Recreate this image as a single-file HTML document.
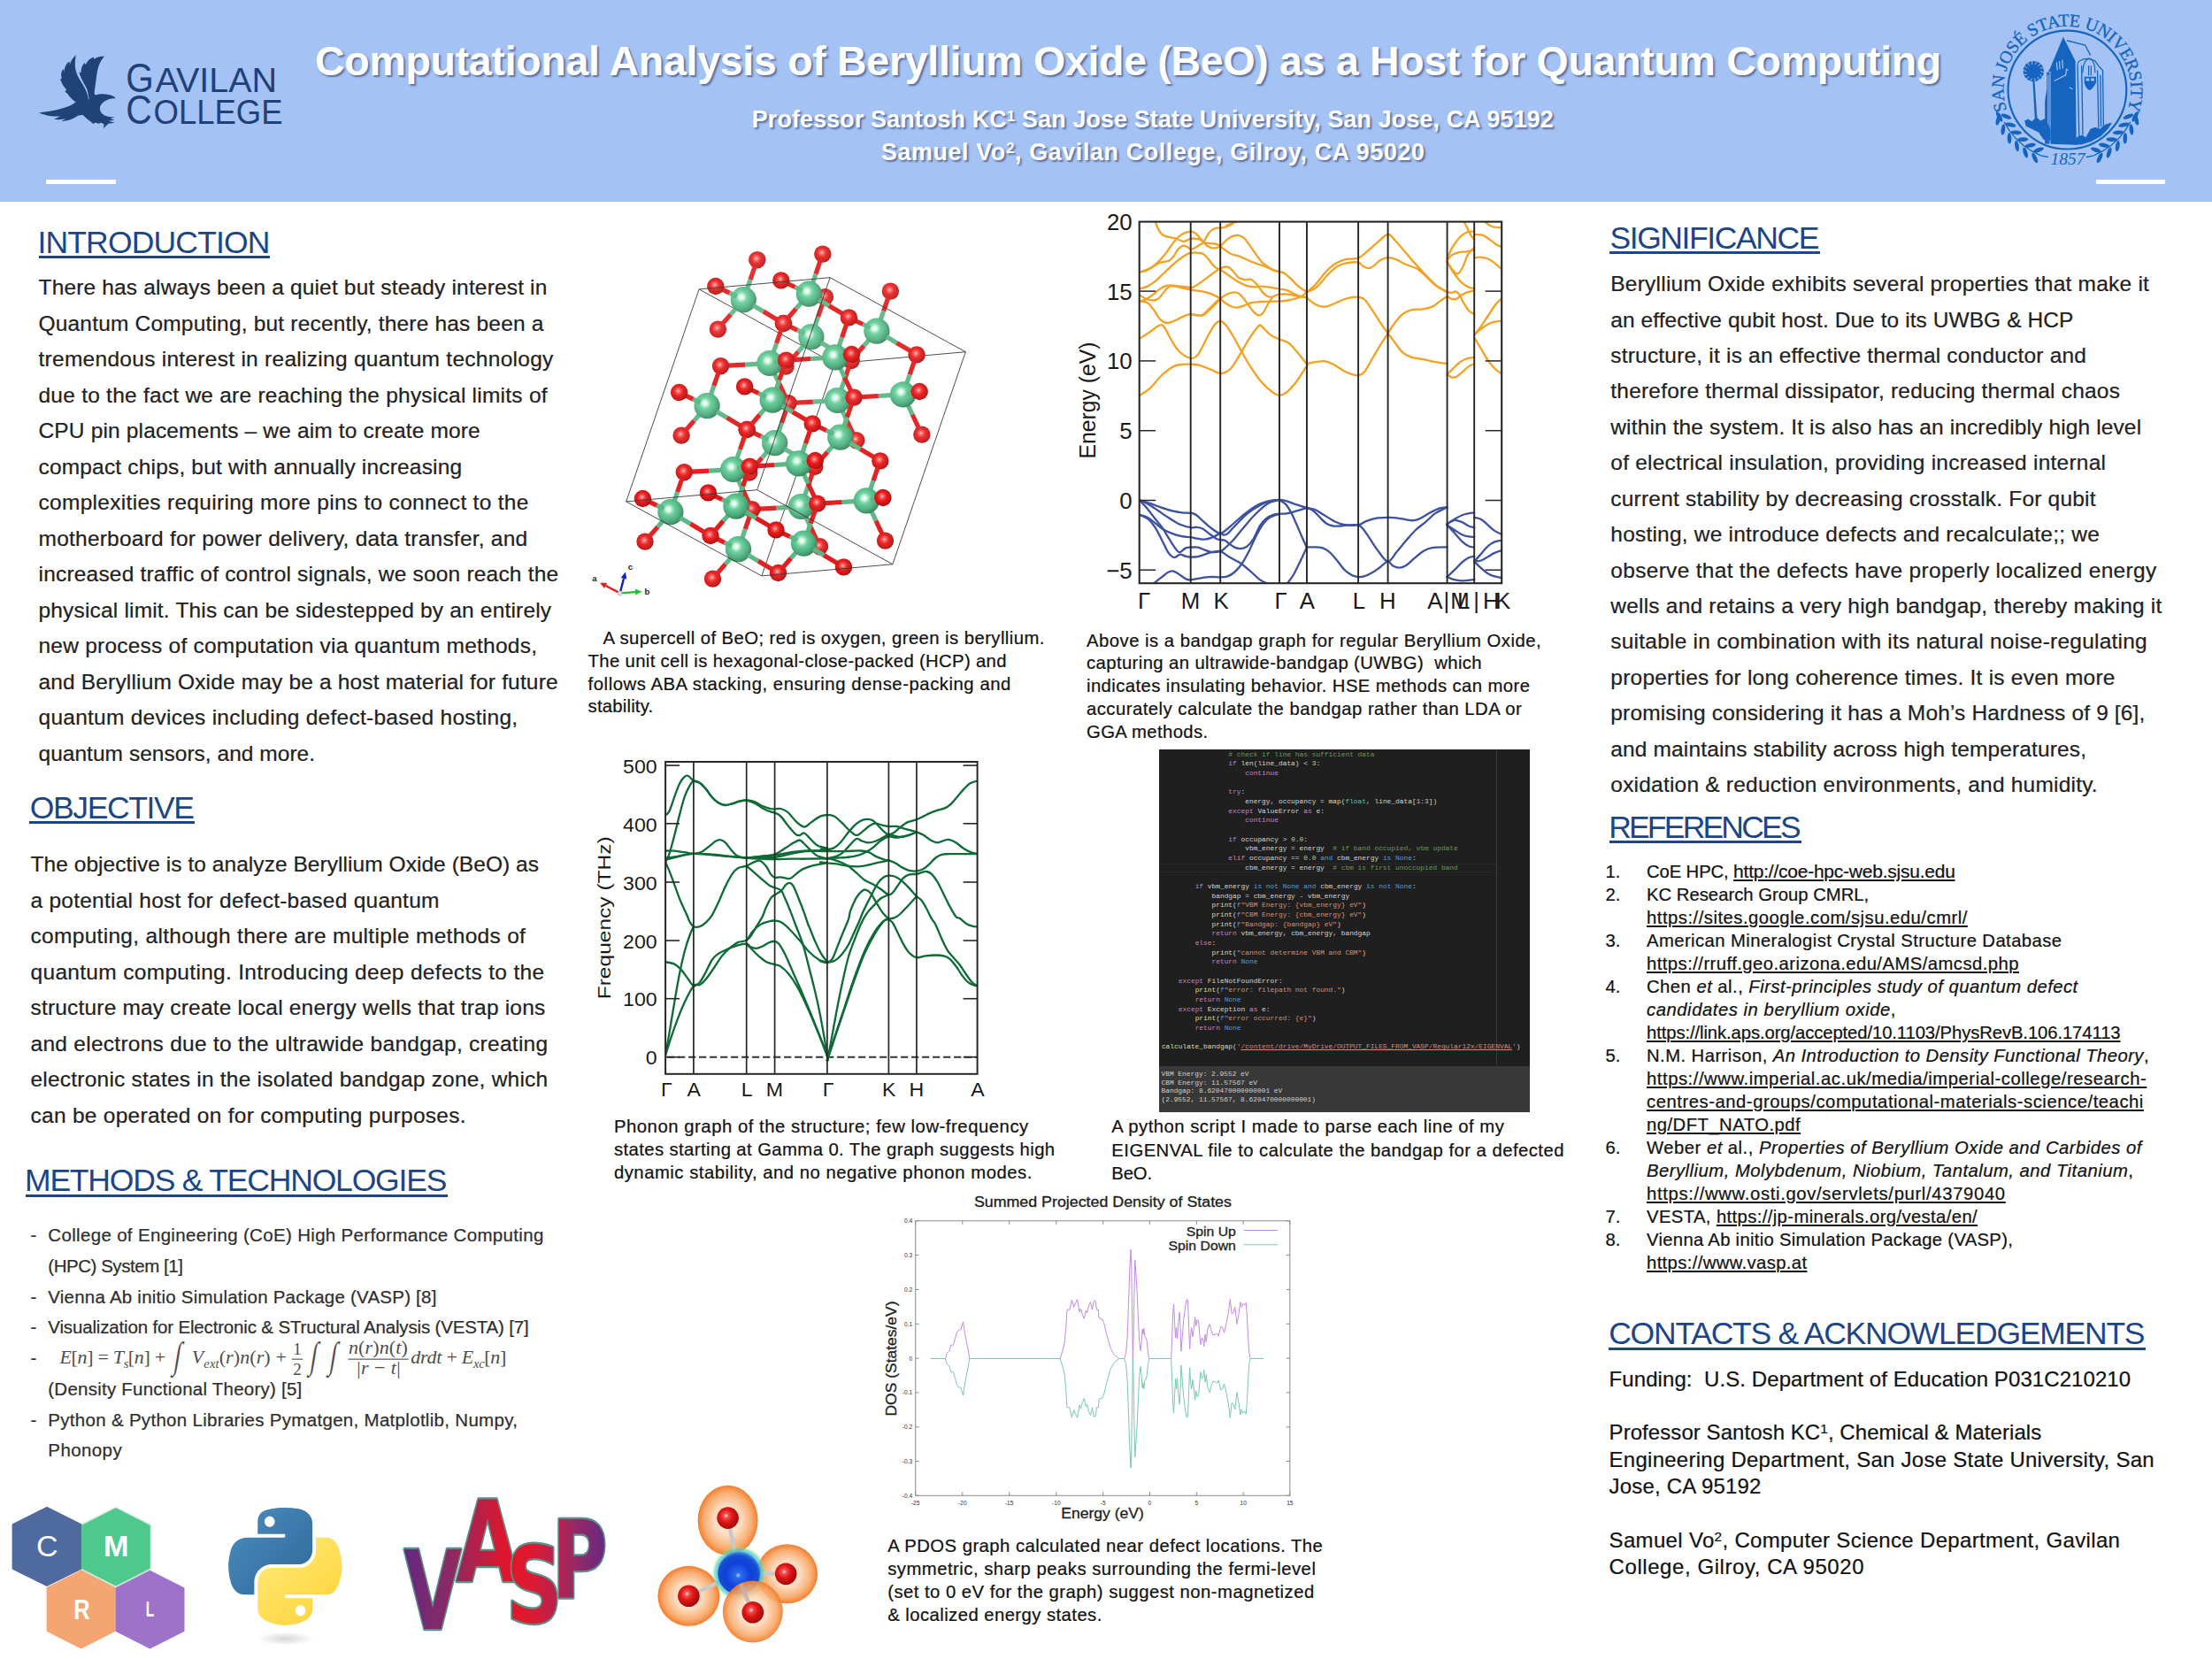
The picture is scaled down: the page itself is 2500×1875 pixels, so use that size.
<!DOCTYPE html>
<html lang="en"><head><meta charset="utf-8"><title>Computational Analysis of Beryllium Oxide (BeO) as a Host for Quantum Computing</title>
<style>
html,body{margin:0;padding:0;background:#fff;}
body{width:2500px;height:1875px;overflow:hidden;font-family:"Liberation Sans",sans-serif;color:#212121;}
#poster{position:relative;width:2500px;height:1875px;overflow:hidden;background:#fff;}
.abs{position:absolute;}
.t{position:absolute;white-space:nowrap;margin:0;padding:0;-webkit-text-stroke:0.22px currentColor;}
.t div{white-space:nowrap;}
.hd{position:absolute;white-space:nowrap;color:#1c4587;}
.hd i{position:absolute;left:0;right:0;height:2px;background:#1c4587;display:block;}
u{text-decoration:underline;text-decoration-thickness:1.5px;text-underline-offset:2px;}
#header{position:absolute;left:0;top:0;width:2500px;height:228px;background:#a4c2f4;}
.ttl{position:absolute;white-space:nowrap;color:#fff;font-weight:bold;text-shadow:2px 2px 2px rgba(60,72,112,0.68);}
sup{font-size:64%;vertical-align:baseline;position:relative;top:-0.46em;line-height:0;}
svg{position:absolute;overflow:visible;}
svg text{font-family:"Liberation Sans",sans-serif;}
svg .ser text, svg text.ser{font-family:"Liberation Serif",serif;}
svg .vasp text{font-family:"DejaVu Sans","Liberation Sans",sans-serif;}

</style></head>
<body>
<div id="poster">
<div id="header"></div>
<div class="abs" style="left:52.4px;top:202.6px;width:78.4px;height:5.2px;background:#fff;"></div>
<div class="abs" style="left:2369.2px;top:202.6px;width:78.3px;height:5.2px;background:#fff;"></div>
<div class="ttl" style="left:356.0px;top:42.2px;font-size:46.5px;line-height:55.80px;letter-spacing:-0.292px;">Computational Analysis of Beryllium Oxide (BeO) as a Host for Quantum Computing</div>
<div class="ttl" style="left:849.8px;top:119.4px;font-size:26.8px;line-height:32.16px;letter-spacing:0.178px;">Professor Santosh KC<sup>1</sup> San Jose State University, San Jose, CA 95192</div>
<div class="ttl" style="left:996.0px;top:155.9px;font-size:26.8px;line-height:32.16px;letter-spacing:0.650px;">Samuel Vo<sup>2</sup>, Gavilan College, Gilroy, CA 95020</div>
<svg style="left:0;top:0" width="340" height="228" viewBox="0 0 340 228"><g transform="translate(30,40) scale(0.14467)"><path d="M95,605 C150,598 240,585 310,560 C345,548 370,535 385,520 C360,505 335,480 318,452 L300,440 L312,425 C290,400 275,375 268,352 L262,345 L275,335 C268,310 270,290 278,275 L290,262 L292,290 C295,255 305,230 322,212 L338,205 L335,235 C345,200 362,172 388,152 L380,200 C375,250 385,300 420,350 C445,390 470,430 480,475 C482,455 478,430 462,400 C440,360 420,320 410,288 L425,292 C425,262 435,235 452,215 L462,228 C475,200 495,182 522,170 L528,185 C550,170 575,163 608,163 C585,190 565,225 555,270 C545,320 540,380 530,440 C528,452 530,462 540,466 C570,455 610,455 650,465 C675,472 690,482 698,493 C680,490 660,492 640,500 C615,510 590,525 578,548 C568,568 572,590 590,612 C610,630 640,640 690,638 L655,650 L688,662 L640,668 L690,682 L640,690 L600,725 L606,695 L585,682 L560,690 L540,680 L520,692 L500,672 C480,660 460,640 440,622 C420,620 400,625 385,638 C360,655 320,668 270,672 L305,652 C275,658 245,660 215,655 L262,632 C225,635 185,630 150,622 C128,616 108,610 95,605 Z" fill="#204377"/><path d="M388,152 C378,230 395,310 440,380 C465,420 482,455 486,500" fill="none" stroke="#a4c2f4" stroke-width="5"/></g>
<g fill="#1f4078" font-family="Liberation Sans, sans-serif">
<text y="103.8"><tspan x="142.3" font-size="46.6" textLength="31.5" lengthAdjust="spacingAndGlyphs">G</tspan><tspan x="175.5" font-size="38" textLength="137.5" lengthAdjust="spacingAndGlyphs">AVILAN</tspan></text>
<text y="140.2"><tspan x="142.3" font-size="46.6" textLength="29.5" lengthAdjust="spacingAndGlyphs">C</tspan><tspan x="173.5" font-size="38" textLength="146" lengthAdjust="spacingAndGlyphs">OLLEGE</tspan></text>
</g></svg>
<svg style="left:0;top:0" width="2500" height="228" viewBox="0 0 2500 228"><g fill="#1565c0" stroke="none">
<circle cx="2336.4" cy="101.6" r="66.9" fill="none" stroke="#1565c0" stroke-width="2.2"/>
<path id="sjarc" d="M2274.13,137.55 A71.9,71.9 0 1 1 2398.67,137.55" fill="none"/>
<text class="ser" style="letter-spacing:-0.278px" font-size="20.0" fill="#1565c0" stroke="#1565c0" stroke-width="0.35" text-anchor="middle"><textPath href="#sjarc" startOffset="50%">SAN JOSÉ STATE UNIVERSITY</textPath></text>
<text x="2336.9" y="186.4" text-anchor="middle" class="ser" font-style="italic" font-size="19.5" fill="#1565c0">1857</text>
<path d="M2265.1,137.9 L2271.0,147.7 L2278.3,156.6 L2286.7,164.3 L2296.2,170.7 L2306.4,175.8 L2314.8,177.5" fill="none" stroke="#1565c0" stroke-width="1.3"/>
<ellipse cx="2258.3" cy="135.6" rx="6.2" ry="2.3" transform="rotate(-75.0 2258.3 135.6)"/>
<ellipse cx="2267.4" cy="131.6" rx="6.2" ry="2.3" transform="rotate(-159.0 2267.4 131.6)"/>
<ellipse cx="2263.9" cy="146.4" rx="6.2" ry="2.3" transform="rotate(-83.2 2263.9 146.4)"/>
<ellipse cx="2272.4" cy="141.1" rx="6.2" ry="2.3" transform="rotate(-167.2 2272.4 141.1)"/>
<ellipse cx="2271.0" cy="156.3" rx="6.2" ry="2.3" transform="rotate(-91.4 2271.0 156.3)"/>
<ellipse cx="2278.7" cy="149.8" rx="6.2" ry="2.3" transform="rotate(-175.4 2278.7 149.8)"/>
<ellipse cx="2279.5" cy="165.0" rx="6.2" ry="2.3" transform="rotate(-99.6 2279.5 165.0)"/>
<ellipse cx="2286.2" cy="157.6" rx="6.2" ry="2.3" transform="rotate(-183.6 2286.2 157.6)"/>
<ellipse cx="2289.1" cy="172.5" rx="6.2" ry="2.3" transform="rotate(-107.8 2289.1 172.5)"/>
<ellipse cx="2294.7" cy="164.2" rx="6.2" ry="2.3" transform="rotate(-191.8 2294.7 164.2)"/>
<ellipse cx="2299.7" cy="178.5" rx="6.2" ry="2.3" transform="rotate(-116.0 2299.7 178.5)"/>
<ellipse cx="2304.0" cy="169.5" rx="6.2" ry="2.3" transform="rotate(-200.0 2304.0 169.5)"/>
<ellipse cx="2259.6" cy="131.8" rx="6.5" ry="2.3" transform="rotate(-119.5 2259.6 131.8)"/>
<path d="M2407.7,137.9 L2401.8,147.7 L2394.5,156.6 L2386.1,164.3 L2376.6,170.7 L2366.4,175.8 L2358.0,177.5" fill="none" stroke="#1565c0" stroke-width="1.3"/>
<ellipse cx="2414.5" cy="135.6" rx="6.2" ry="2.3" transform="rotate(255.0 2414.5 135.6)"/>
<ellipse cx="2405.4" cy="131.6" rx="6.2" ry="2.3" transform="rotate(339.0 2405.4 131.6)"/>
<ellipse cx="2408.9" cy="146.4" rx="6.2" ry="2.3" transform="rotate(263.2 2408.9 146.4)"/>
<ellipse cx="2400.4" cy="141.1" rx="6.2" ry="2.3" transform="rotate(347.2 2400.4 141.1)"/>
<ellipse cx="2401.8" cy="156.3" rx="6.2" ry="2.3" transform="rotate(271.4 2401.8 156.3)"/>
<ellipse cx="2394.1" cy="149.8" rx="6.2" ry="2.3" transform="rotate(355.4 2394.1 149.8)"/>
<ellipse cx="2393.3" cy="165.0" rx="6.2" ry="2.3" transform="rotate(279.6 2393.3 165.0)"/>
<ellipse cx="2386.6" cy="157.6" rx="6.2" ry="2.3" transform="rotate(363.6 2386.6 157.6)"/>
<ellipse cx="2383.7" cy="172.5" rx="6.2" ry="2.3" transform="rotate(287.8 2383.7 172.5)"/>
<ellipse cx="2378.1" cy="164.2" rx="6.2" ry="2.3" transform="rotate(371.8 2378.1 164.2)"/>
<ellipse cx="2373.1" cy="178.5" rx="6.2" ry="2.3" transform="rotate(296.0 2373.1 178.5)"/>
<ellipse cx="2368.8" cy="169.5" rx="6.2" ry="2.3" transform="rotate(380.0 2368.8 169.5)"/>
<ellipse cx="2413.2" cy="131.8" rx="6.5" ry="2.3" transform="rotate(299.5 2413.2 131.8)"/>
<g transform="translate(2230,0) scale(0.13260)">
<path d="M768,315 L872,520 L880,1235 L660,1228 L660,610 L640,608 L655,585 Z"/>
<path d="M712,530 L718,600 M735,520 L740,590 M760,510 L765,585 M690,690 L790,640 L795,590 L812,600 M820,745 L850,760" stroke="#a4c2f4" stroke-width="9" fill="none"/>
<path d="M628,615 L652,615 L652,1225 L612,1225 L612,860 L628,760 Z" />
<path d="M640,640 L640,1200" stroke="#a4c2f4" stroke-width="8"/>
<path d="M800,345 L955,385 L1000,470 M890,540 L905,520 L940,505 L990,500 L1040,520 L1075,570 L1105,600 L1112,1120 M890,545 L905,1215 M925,560 L935,1150 M1060,600 L1070,1100 M1085,640 L1090,1080" fill="none" stroke="#1565c0" stroke-width="10"/>
<path d="M935,620 C935,540 965,500 990,500 C1020,500 1040,550 1040,620" fill="none" stroke="#1565c0" stroke-width="9"/>
<path d="M948,655 L1048,655 L1048,705 C1030,740 1010,765 990,770 C970,760 955,735 948,705 Z"/>
<path d="M962,668 h28 v22 h-28 Z M1004,668 h28 v22 h-28 Z" fill="#a4c2f4"/>
<path d="M985,560 L985,645 M1005,560 L1005,645" stroke="#1565c0" stroke-width="9"/>
<circle cx="515" cy="608" r="88"/>
<path d="M575,608 L614,620" stroke="#a4c2f4" stroke-width="7"/>
<path d="M569,634 L599,662" stroke="#a4c2f4" stroke-width="7"/>
<path d="M552,655 L568,693" stroke="#a4c2f4" stroke-width="7"/>
<path d="M528,666 L525,707" stroke="#a4c2f4" stroke-width="7"/>
<path d="M502,666 L481,702" stroke="#a4c2f4" stroke-width="7"/>
<path d="M478,655 L444,678" stroke="#a4c2f4" stroke-width="7"/>
<path d="M461,634 L420,640" stroke="#a4c2f4" stroke-width="7"/>
<path d="M455,608 L416,596" stroke="#a4c2f4" stroke-width="7"/>
<path d="M461,582 L431,554" stroke="#a4c2f4" stroke-width="7"/>
<path d="M478,561 L462,523" stroke="#a4c2f4" stroke-width="7"/>
<path d="M502,550 L505,509" stroke="#a4c2f4" stroke-width="7"/>
<path d="M528,550 L549,514" stroke="#a4c2f4" stroke-width="7"/>
<path d="M552,561 L586,538" stroke="#a4c2f4" stroke-width="7"/>
<path d="M569,582 L610,576" stroke="#a4c2f4" stroke-width="7"/>
<path d="M508,690 L528,1040 L548,1040 L524,690 Z"/>
<path d="M438,1030 L470,1015 L500,1035 L540,1000 L575,1030 L610,1010 L640,1060 L660,1100 L660,1200 L600,1190 L560,1130 L500,1100 L450,1075 Z"/>
<path d="M870,1235 L880,1170 L930,1150 L960,1170 L1000,1100 L1040,1085 L1080,1100 L1130,1060 L1185,1045 L1150,1100 L1090,1160 L1010,1205 L930,1232 Z"/>
</g>
</g></svg>
<svg style="left:0;top:0" width="2500" height="1875" viewBox="0 0 2500 1875">
<defs>
<radialGradient id="gBe" cx="0.42" cy="0.40" r="0.62"><stop offset="0" stop-color="#ffffff"/><stop offset="0.10" stop-color="#e6fff2"/><stop offset="0.36" stop-color="#66cf9a"/><stop offset="0.75" stop-color="#48a878"/><stop offset="1" stop-color="#33805a"/></radialGradient>
<radialGradient id="gO" cx="0.45" cy="0.42" r="0.62"><stop offset="0" stop-color="#ffd9d9"/><stop offset="0.14" stop-color="#ff6a6a"/><stop offset="0.42" stop-color="#e91c1c"/><stop offset="0.8" stop-color="#c40f0f"/><stop offset="1" stop-color="#8e0a0a"/></radialGradient>
</defs>
<line x1="790.1" y1="326.9" x2="943.3" y2="410.9" stroke="#3a3a3a" stroke-width="0.9"/>
<line x1="943.3" y1="410.9" x2="1091.3" y2="397.7" stroke="#3a3a3a" stroke-width="0.9"/>
<line x1="943.3" y1="410.9" x2="860.9" y2="650.9" stroke="#3a3a3a" stroke-width="0.9"/>
<circle cx="888.0" cy="414.1" r="9.7" fill="url(#gO)"/>
<circle cx="888.0" cy="414.1" r="9.7" fill="#fff" opacity="0.12"/>
<circle cx="932.4" cy="335.7" r="9.7" fill="url(#gO)"/>
<circle cx="932.4" cy="335.7" r="9.7" fill="#fff" opacity="0.12"/>
<line x1="902.4" y1="397.4" x2="892.5" y2="408.8" stroke="#e43333" stroke-width="5.2"/>
<line x1="924.6" y1="358.2" x2="929.8" y2="343.0" stroke="#e43232" stroke-width="5.2"/>
<line x1="910.0" y1="388.7" x2="902.4" y2="397.4" stroke="#6bbc90" stroke-width="5.2"/>
<line x1="920.7" y1="369.7" x2="924.6" y2="358.2" stroke="#6abc90" stroke-width="5.2"/>
<circle cx="811.4" cy="372.1" r="9.7" fill="url(#gO)"/>
<circle cx="811.4" cy="372.1" r="9.7" fill="#fff" opacity="0.11"/>
<circle cx="855.8" cy="293.7" r="9.7" fill="url(#gO)"/>
<circle cx="855.8" cy="293.7" r="9.7" fill="#fff" opacity="0.11"/>
<circle cx="916.9" cy="380.7" r="14.6" fill="url(#gBe)"/>
<circle cx="916.9" cy="380.7" r="14.6" fill="#fff" opacity="0.11"/>
<line x1="825.8" y1="355.4" x2="815.9" y2="366.8" stroke="#e33030" stroke-width="5.2"/>
<line x1="927.8" y1="387.2" x2="939.4" y2="394.1" stroke="#69bc8f" stroke-width="5.2"/>
<line x1="848.0" y1="316.2" x2="853.2" y2="301.0" stroke="#e33030" stroke-width="5.2"/>
<line x1="939.4" y1="394.1" x2="954.7" y2="403.2" stroke="#e32f2f" stroke-width="5.2"/>
<line x1="833.4" y1="346.7" x2="825.8" y2="355.4" stroke="#69bc8f" stroke-width="5.2"/>
<line x1="844.1" y1="327.7" x2="848.0" y2="316.2" stroke="#69bb8e" stroke-width="5.2"/>
<line x1="909.4" y1="377.1" x2="901.1" y2="373.1" stroke="#69bb8e" stroke-width="5.2"/>
<circle cx="962.0" cy="407.5" r="9.7" fill="url(#gO)"/>
<circle cx="962.0" cy="407.5" r="9.7" fill="#fff" opacity="0.10"/>
<circle cx="962.0" cy="407.5" r="9.7" fill="url(#gO)"/>
<circle cx="962.0" cy="407.5" r="9.7" fill="#fff" opacity="0.10"/>
<circle cx="967.8" cy="497.7" r="9.7" fill="url(#gO)"/>
<circle cx="967.8" cy="497.7" r="9.7" fill="#fff" opacity="0.10"/>
<circle cx="1006.4" cy="329.1" r="9.7" fill="url(#gO)"/>
<circle cx="1006.4" cy="329.1" r="9.7" fill="#fff" opacity="0.10"/>
<circle cx="840.3" cy="338.7" r="14.6" fill="url(#gBe)"/>
<circle cx="840.3" cy="338.7" r="14.6" fill="#fff" opacity="0.10"/>
<line x1="954.2" y1="430.0" x2="959.4" y2="414.8" stroke="#e32e2e" stroke-width="5.2"/>
<line x1="957.1" y1="475.1" x2="964.4" y2="490.5" stroke="#e32e2e" stroke-width="5.2"/>
<line x1="901.1" y1="373.1" x2="890.4" y2="367.9" stroke="#e32e2e" stroke-width="5.2"/>
<line x1="976.4" y1="390.8" x2="966.5" y2="402.2" stroke="#e32e2e" stroke-width="5.2"/>
<line x1="851.2" y1="345.2" x2="862.8" y2="352.1" stroke="#68bb8e" stroke-width="5.2"/>
<line x1="998.6" y1="351.6" x2="1003.8" y2="336.4" stroke="#e32d2d" stroke-width="5.2"/>
<line x1="950.3" y1="441.5" x2="954.2" y2="430.0" stroke="#67bb8e" stroke-width="5.2"/>
<line x1="951.6" y1="463.3" x2="957.1" y2="475.1" stroke="#67bb8e" stroke-width="5.2"/>
<circle cx="846.8" cy="534.1" r="9.7" fill="url(#gO)"/>
<circle cx="846.8" cy="534.1" r="9.7" fill="#fff" opacity="0.09"/>
<line x1="862.8" y1="352.1" x2="878.1" y2="361.2" stroke="#e32d2d" stroke-width="5.2"/>
<line x1="984.0" y1="382.1" x2="976.4" y2="390.8" stroke="#67bb8d" stroke-width="5.2"/>
<line x1="832.8" y1="335.1" x2="824.5" y2="331.1" stroke="#67bb8d" stroke-width="5.2"/>
<line x1="994.7" y1="363.1" x2="998.6" y2="351.6" stroke="#67bb8d" stroke-width="5.2"/>
<circle cx="885.4" cy="365.5" r="9.7" fill="url(#gO)"/>
<circle cx="885.4" cy="365.5" r="9.7" fill="#fff" opacity="0.09"/>
<circle cx="885.4" cy="365.5" r="9.7" fill="url(#gO)"/>
<circle cx="885.4" cy="365.5" r="9.7" fill="#fff" opacity="0.09"/>
<circle cx="946.5" cy="452.5" r="14.6" fill="url(#gBe)"/>
<circle cx="946.5" cy="452.5" r="14.6" fill="#fff" opacity="0.09"/>
<line x1="933.1" y1="453.3" x2="918.8" y2="454.1" stroke="#67bb8d" stroke-width="5.2"/>
<line x1="918.8" y1="454.1" x2="900.1" y2="455.2" stroke="#e32c2c" stroke-width="5.2"/>
<circle cx="891.1" cy="455.7" r="9.7" fill="url(#gO)"/>
<circle cx="891.1" cy="455.7" r="9.7" fill="#fff" opacity="0.09"/>
<line x1="861.2" y1="517.4" x2="851.3" y2="528.8" stroke="#e32c2c" stroke-width="5.2"/>
<circle cx="929.8" cy="287.1" r="9.7" fill="url(#gO)"/>
<circle cx="929.8" cy="287.1" r="9.7" fill="#fff" opacity="0.09"/>
<circle cx="990.9" cy="374.1" r="14.6" fill="url(#gBe)"/>
<circle cx="990.9" cy="374.1" r="14.6" fill="#fff" opacity="0.09"/>
<line x1="877.6" y1="388.0" x2="882.8" y2="372.8" stroke="#e32c2c" stroke-width="5.2"/>
<line x1="880.5" y1="433.1" x2="887.8" y2="448.5" stroke="#e32c2c" stroke-width="5.2"/>
<line x1="883.4" y1="478.2" x2="888.6" y2="463.0" stroke="#e32c2c" stroke-width="5.2"/>
<line x1="824.5" y1="331.1" x2="813.8" y2="325.9" stroke="#e32b2b" stroke-width="5.2"/>
<line x1="899.8" y1="348.8" x2="889.9" y2="360.2" stroke="#e32b2b" stroke-width="5.2"/>
<line x1="1001.8" y1="380.6" x2="1013.4" y2="387.5" stroke="#66ba8c" stroke-width="5.2"/>
<line x1="868.8" y1="508.7" x2="861.2" y2="517.4" stroke="#66ba8c" stroke-width="5.2"/>
<line x1="922.0" y1="309.6" x2="927.2" y2="294.4" stroke="#e32b2b" stroke-width="5.2"/>
<line x1="873.7" y1="399.5" x2="877.6" y2="388.0" stroke="#66ba8c" stroke-width="5.2"/>
<line x1="875.0" y1="421.3" x2="880.5" y2="433.1" stroke="#66ba8c" stroke-width="5.2"/>
<line x1="879.5" y1="489.7" x2="883.4" y2="478.2" stroke="#66ba8c" stroke-width="5.2"/>
<circle cx="770.1" cy="492.1" r="9.7" fill="url(#gO)"/>
<circle cx="770.1" cy="492.1" r="9.7" fill="#fff" opacity="0.08"/>
<line x1="951.0" y1="451.7" x2="955.8" y2="450.8" stroke="#65ba8c" stroke-width="5.2"/>
<line x1="1013.4" y1="387.5" x2="1028.7" y2="396.6" stroke="#e22b2b" stroke-width="5.2"/>
<line x1="907.4" y1="340.1" x2="899.8" y2="348.8" stroke="#65ba8c" stroke-width="5.2"/>
<line x1="918.1" y1="321.1" x2="922.0" y2="309.6" stroke="#65ba8c" stroke-width="5.2"/>
<line x1="983.4" y1="370.5" x2="975.1" y2="366.5" stroke="#65ba8c" stroke-width="5.2"/>
<circle cx="808.8" cy="323.5" r="9.7" fill="url(#gO)"/>
<circle cx="808.8" cy="323.5" r="9.7" fill="#fff" opacity="0.08"/>
<circle cx="1036.0" cy="400.9" r="9.7" fill="url(#gO)"/>
<circle cx="1036.0" cy="400.9" r="9.7" fill="#fff" opacity="0.08"/>
<circle cx="869.9" cy="410.5" r="14.6" fill="url(#gBe)"/>
<circle cx="869.9" cy="410.5" r="14.6" fill="#fff" opacity="0.08"/>
<line x1="856.5" y1="411.3" x2="842.2" y2="412.1" stroke="#65ba8c" stroke-width="5.2"/>
<line x1="842.2" y1="412.1" x2="823.5" y2="413.2" stroke="#e22a2a" stroke-width="5.2"/>
<circle cx="814.5" cy="413.7" r="9.7" fill="url(#gO)"/>
<circle cx="814.5" cy="413.7" r="9.7" fill="#fff" opacity="0.08"/>
<circle cx="1041.8" cy="491.1" r="9.7" fill="url(#gO)"/>
<circle cx="1041.8" cy="491.1" r="9.7" fill="#fff" opacity="0.08"/>
<circle cx="875.7" cy="500.7" r="14.6" fill="url(#gBe)"/>
<circle cx="875.7" cy="500.7" r="14.6" fill="#fff" opacity="0.08"/>
<line x1="784.6" y1="475.4" x2="774.7" y2="486.8" stroke="#e22a2a" stroke-width="5.2"/>
<circle cx="914.3" cy="332.1" r="14.6" fill="url(#gBe)"/>
<circle cx="914.3" cy="332.1" r="14.6" fill="#fff" opacity="0.08"/>
<line x1="886.6" y1="507.2" x2="898.2" y2="514.1" stroke="#64ba8b" stroke-width="5.2"/>
<line x1="1028.2" y1="423.4" x2="1033.4" y2="408.2" stroke="#e22929" stroke-width="5.2"/>
<line x1="806.8" y1="436.2" x2="812.0" y2="421.0" stroke="#e22929" stroke-width="5.2"/>
<line x1="955.8" y1="450.8" x2="962.2" y2="449.6" stroke="#e22929" stroke-width="5.2"/>
<line x1="1031.1" y1="468.5" x2="1038.4" y2="483.9" stroke="#e22929" stroke-width="5.2"/>
<line x1="975.1" y1="366.5" x2="964.4" y2="361.3" stroke="#e22929" stroke-width="5.2"/>
<line x1="898.2" y1="514.1" x2="913.5" y2="523.2" stroke="#e22929" stroke-width="5.2"/>
<line x1="925.2" y1="338.6" x2="936.8" y2="345.5" stroke="#64b98b" stroke-width="5.2"/>
<line x1="792.2" y1="466.7" x2="784.6" y2="475.4" stroke="#64b98b" stroke-width="5.2"/>
<line x1="1024.3" y1="434.9" x2="1028.2" y2="423.4" stroke="#64b98b" stroke-width="5.2"/>
<line x1="802.9" y1="447.7" x2="806.8" y2="436.2" stroke="#64b98b" stroke-width="5.2"/>
<line x1="1025.6" y1="456.7" x2="1031.1" y2="468.5" stroke="#64b98b" stroke-width="5.2"/>
<line x1="868.2" y1="497.1" x2="859.9" y2="493.1" stroke="#64b98b" stroke-width="5.2"/>
<circle cx="920.8" cy="527.5" r="9.7" fill="url(#gO)"/>
<circle cx="920.8" cy="527.5" r="9.7" fill="#fff" opacity="0.07"/>
<line x1="874.4" y1="409.7" x2="879.2" y2="408.8" stroke="#64b98b" stroke-width="5.2"/>
<line x1="936.8" y1="345.5" x2="952.1" y2="354.6" stroke="#e22828" stroke-width="5.2"/>
<circle cx="926.5" cy="617.7" r="9.7" fill="url(#gO)"/>
<circle cx="926.5" cy="617.7" r="9.7" fill="#fff" opacity="0.07"/>
<line x1="906.8" y1="328.5" x2="898.5" y2="324.5" stroke="#63b98b" stroke-width="5.2"/>
<circle cx="959.4" cy="358.9" r="9.7" fill="url(#gO)"/>
<circle cx="959.4" cy="358.9" r="9.7" fill="#fff" opacity="0.07"/>
<circle cx="1020.5" cy="445.9" r="14.6" fill="url(#gBe)"/>
<circle cx="1020.5" cy="445.9" r="14.6" fill="#fff" opacity="0.07"/>
<line x1="1007.1" y1="446.7" x2="992.8" y2="447.5" stroke="#63b98a" stroke-width="5.2"/>
<line x1="992.8" y1="447.5" x2="974.1" y2="448.6" stroke="#e22828" stroke-width="5.2"/>
<circle cx="965.1" cy="449.1" r="9.7" fill="url(#gO)"/>
<circle cx="965.1" cy="449.1" r="9.7" fill="#fff" opacity="0.07"/>
<circle cx="799.1" cy="458.7" r="14.6" fill="url(#gBe)"/>
<circle cx="799.1" cy="458.7" r="14.6" fill="#fff" opacity="0.07"/>
<line x1="913.0" y1="550.0" x2="918.2" y2="534.8" stroke="#e22727" stroke-width="5.2"/>
<line x1="915.9" y1="595.1" x2="923.2" y2="610.5" stroke="#e22727" stroke-width="5.2"/>
<line x1="859.9" y1="493.1" x2="849.2" y2="487.9" stroke="#e22727" stroke-width="5.2"/>
<line x1="935.2" y1="510.8" x2="925.3" y2="522.2" stroke="#e22727" stroke-width="5.2"/>
<line x1="810.0" y1="465.2" x2="821.6" y2="472.1" stroke="#63b98a" stroke-width="5.2"/>
<line x1="951.6" y1="381.4" x2="956.8" y2="366.2" stroke="#e22727" stroke-width="5.2"/>
<line x1="879.2" y1="408.8" x2="885.6" y2="407.6" stroke="#e22727" stroke-width="5.2"/>
<line x1="954.5" y1="426.5" x2="961.8" y2="441.9" stroke="#e22727" stroke-width="5.2"/>
<line x1="957.4" y1="471.6" x2="962.6" y2="456.4" stroke="#e22727" stroke-width="5.2"/>
<line x1="909.1" y1="561.5" x2="913.0" y2="550.0" stroke="#63b98a" stroke-width="5.2"/>
<line x1="898.5" y1="324.5" x2="887.8" y2="319.3" stroke="#e22727" stroke-width="5.2"/>
<line x1="910.4" y1="583.3" x2="915.9" y2="595.1" stroke="#63b98a" stroke-width="5.2"/>
<circle cx="805.5" cy="654.1" r="9.7" fill="url(#gO)"/>
<circle cx="805.5" cy="654.1" r="9.7" fill="#fff" opacity="0.06"/>
<line x1="821.6" y1="472.1" x2="836.9" y2="481.2" stroke="#e22626" stroke-width="5.2"/>
<line x1="942.8" y1="502.1" x2="935.2" y2="510.8" stroke="#62b98a" stroke-width="5.2"/>
<line x1="947.7" y1="392.9" x2="951.6" y2="381.4" stroke="#62b98a" stroke-width="5.2"/>
<line x1="949.0" y1="414.7" x2="954.5" y2="426.5" stroke="#62b98a" stroke-width="5.2"/>
<line x1="791.6" y1="455.1" x2="783.3" y2="451.1" stroke="#62b98a" stroke-width="5.2"/>
<line x1="953.5" y1="483.1" x2="957.4" y2="471.6" stroke="#62b98a" stroke-width="5.2"/>
<circle cx="844.2" cy="485.5" r="9.7" fill="url(#gO)"/>
<circle cx="844.2" cy="485.5" r="9.7" fill="#fff" opacity="0.06"/>
<circle cx="844.1" cy="485.5" r="9.7" fill="url(#gO)"/>
<circle cx="844.1" cy="485.5" r="9.7" fill="#fff" opacity="0.06"/>
<line x1="1025.0" y1="445.1" x2="1029.8" y2="444.2" stroke="#62b889" stroke-width="5.2"/>
<circle cx="905.3" cy="572.5" r="14.6" fill="url(#gBe)"/>
<circle cx="905.3" cy="572.5" r="14.6" fill="#fff" opacity="0.06"/>
<line x1="891.9" y1="573.3" x2="877.6" y2="574.1" stroke="#62b889" stroke-width="5.2"/>
<line x1="877.6" y1="574.1" x2="858.9" y2="575.2" stroke="#e22626" stroke-width="5.2"/>
<circle cx="849.9" cy="575.7" r="9.7" fill="url(#gO)"/>
<circle cx="849.9" cy="575.7" r="9.7" fill="#fff" opacity="0.06"/>
<line x1="820.0" y1="637.4" x2="810.1" y2="648.8" stroke="#e22525" stroke-width="5.2"/>
<circle cx="882.8" cy="316.9" r="9.7" fill="url(#gO)"/>
<circle cx="882.8" cy="316.9" r="9.7" fill="#fff" opacity="0.06"/>
<circle cx="943.9" cy="403.9" r="14.6" fill="url(#gBe)"/>
<circle cx="943.9" cy="403.9" r="14.6" fill="#fff" opacity="0.06"/>
<line x1="930.5" y1="404.7" x2="916.2" y2="405.5" stroke="#62b889" stroke-width="5.2"/>
<line x1="916.2" y1="405.5" x2="897.5" y2="406.6" stroke="#e22525" stroke-width="5.2"/>
<circle cx="888.5" cy="407.1" r="9.7" fill="url(#gO)"/>
<circle cx="888.5" cy="407.1" r="9.7" fill="#fff" opacity="0.06"/>
<circle cx="949.7" cy="494.1" r="14.6" fill="url(#gBe)"/>
<circle cx="949.7" cy="494.1" r="14.6" fill="#fff" opacity="0.06"/>
<line x1="836.4" y1="508.0" x2="841.6" y2="492.8" stroke="#e22525" stroke-width="5.2"/>
<line x1="839.3" y1="553.1" x2="846.6" y2="568.5" stroke="#e22525" stroke-width="5.2"/>
<line x1="842.2" y1="598.2" x2="847.4" y2="583.0" stroke="#e22525" stroke-width="5.2"/>
<line x1="783.3" y1="451.1" x2="772.6" y2="445.9" stroke="#e22525" stroke-width="5.2"/>
<line x1="858.6" y1="468.8" x2="848.7" y2="480.2" stroke="#e22525" stroke-width="5.2"/>
<line x1="960.6" y1="500.6" x2="972.2" y2="507.5" stroke="#61b889" stroke-width="5.2"/>
<line x1="827.6" y1="628.7" x2="820.0" y2="637.4" stroke="#61b889" stroke-width="5.2"/>
<line x1="880.8" y1="429.6" x2="886.0" y2="414.4" stroke="#e22424" stroke-width="5.2"/>
<line x1="1029.8" y1="444.2" x2="1036.2" y2="443.0" stroke="#e22424" stroke-width="5.2"/>
<line x1="832.5" y1="519.5" x2="836.4" y2="508.0" stroke="#61b889" stroke-width="5.2"/>
<line x1="833.8" y1="541.3" x2="839.3" y2="553.1" stroke="#61b889" stroke-width="5.2"/>
<line x1="838.3" y1="609.7" x2="842.2" y2="598.2" stroke="#61b889" stroke-width="5.2"/>
<circle cx="729.0" cy="612.1" r="9.7" fill="url(#gO)"/>
<circle cx="729.0" cy="612.1" r="9.7" fill="#fff" opacity="0.05"/>
<line x1="909.8" y1="571.7" x2="914.6" y2="570.8" stroke="#61b888" stroke-width="5.2"/>
<line x1="972.2" y1="507.5" x2="987.5" y2="516.6" stroke="#e22424" stroke-width="5.2"/>
<line x1="866.2" y1="460.1" x2="858.6" y2="468.8" stroke="#61b888" stroke-width="5.2"/>
<line x1="876.9" y1="441.1" x2="880.8" y2="429.6" stroke="#60b888" stroke-width="5.2"/>
<line x1="942.2" y1="490.5" x2="933.9" y2="486.5" stroke="#60b888" stroke-width="5.2"/>
<circle cx="767.6" cy="443.5" r="9.7" fill="url(#gO)"/>
<circle cx="767.6" cy="443.5" r="9.7" fill="#fff" opacity="0.05"/>
<circle cx="994.8" cy="520.9" r="9.7" fill="url(#gO)"/>
<circle cx="994.8" cy="520.9" r="9.7" fill="#fff" opacity="0.05"/>
<line x1="948.4" y1="403.1" x2="953.2" y2="402.2" stroke="#60b888" stroke-width="5.2"/>
<circle cx="828.7" cy="530.5" r="14.6" fill="url(#gBe)"/>
<circle cx="828.7" cy="530.5" r="14.6" fill="#fff" opacity="0.05"/>
<line x1="815.3" y1="531.3" x2="801.0" y2="532.1" stroke="#60b888" stroke-width="5.2"/>
<line x1="801.0" y1="532.1" x2="782.3" y2="533.2" stroke="#e22323" stroke-width="5.2"/>
<circle cx="773.3" cy="533.7" r="9.7" fill="url(#gO)"/>
<circle cx="773.3" cy="533.7" r="9.7" fill="#fff" opacity="0.05"/>
<circle cx="1000.5" cy="611.1" r="9.7" fill="url(#gO)"/>
<circle cx="1000.5" cy="611.1" r="9.7" fill="#fff" opacity="0.05"/>
<circle cx="834.5" cy="620.7" r="14.6" fill="url(#gBe)"/>
<circle cx="834.5" cy="620.7" r="14.6" fill="#fff" opacity="0.05"/>
<line x1="743.4" y1="595.4" x2="733.5" y2="606.8" stroke="#e12323" stroke-width="5.2"/>
<circle cx="1039.2" cy="442.5" r="9.7" fill="url(#gO)"/>
<circle cx="1039.2" cy="442.5" r="9.7" fill="#fff" opacity="0.05"/>
<circle cx="873.1" cy="452.1" r="14.6" fill="url(#gBe)"/>
<circle cx="873.1" cy="452.1" r="14.6" fill="#fff" opacity="0.05"/>
<line x1="845.4" y1="627.2" x2="857.0" y2="634.1" stroke="#60b788" stroke-width="5.2"/>
<line x1="987.0" y1="543.4" x2="992.2" y2="528.2" stroke="#e12323" stroke-width="5.2"/>
<line x1="765.6" y1="556.2" x2="770.8" y2="541.0" stroke="#e12323" stroke-width="5.2"/>
<line x1="914.6" y1="570.8" x2="921.0" y2="569.6" stroke="#e12222" stroke-width="5.2"/>
<line x1="989.9" y1="588.5" x2="997.2" y2="603.9" stroke="#e12222" stroke-width="5.2"/>
<line x1="933.9" y1="486.5" x2="923.2" y2="481.3" stroke="#e12222" stroke-width="5.2"/>
<line x1="857.0" y1="634.1" x2="872.3" y2="643.2" stroke="#e12222" stroke-width="5.2"/>
<line x1="884.0" y1="458.6" x2="895.6" y2="465.5" stroke="#5fb787" stroke-width="5.2"/>
<line x1="751.0" y1="586.7" x2="743.4" y2="595.4" stroke="#5fb787" stroke-width="5.2"/>
<line x1="953.2" y1="402.2" x2="959.6" y2="401.0" stroke="#e12222" stroke-width="5.2"/>
<line x1="983.1" y1="554.9" x2="987.0" y2="543.4" stroke="#5fb787" stroke-width="5.2"/>
<line x1="761.7" y1="567.7" x2="765.6" y2="556.2" stroke="#5fb787" stroke-width="5.2"/>
<line x1="984.4" y1="576.7" x2="989.9" y2="588.5" stroke="#5fb787" stroke-width="5.2"/>
<line x1="827.0" y1="617.1" x2="818.7" y2="613.1" stroke="#5fb787" stroke-width="5.2"/>
<circle cx="879.5" cy="647.5" r="9.7" fill="url(#gO)"/>
<circle cx="879.5" cy="647.5" r="9.7" fill="#fff" opacity="0.04"/>
<line x1="833.2" y1="529.7" x2="838.0" y2="528.8" stroke="#5fb787" stroke-width="5.2"/>
<line x1="895.6" y1="465.5" x2="910.9" y2="474.6" stroke="#e12222" stroke-width="5.2"/>
<line x1="865.6" y1="448.5" x2="857.3" y2="444.5" stroke="#5fb787" stroke-width="5.2"/>
<circle cx="918.2" cy="478.9" r="9.7" fill="url(#gO)"/>
<circle cx="918.2" cy="478.9" r="9.7" fill="#fff" opacity="0.04"/>
<circle cx="979.3" cy="565.9" r="14.6" fill="url(#gBe)"/>
<circle cx="979.3" cy="565.9" r="14.6" fill="#fff" opacity="0.04"/>
<line x1="965.9" y1="566.7" x2="951.6" y2="567.5" stroke="#5eb787" stroke-width="5.2"/>
<line x1="951.6" y1="567.5" x2="932.9" y2="568.6" stroke="#e12121" stroke-width="5.2"/>
<circle cx="923.9" cy="569.1" r="9.7" fill="url(#gO)"/>
<circle cx="923.9" cy="569.1" r="9.7" fill="#fff" opacity="0.04"/>
<circle cx="757.9" cy="578.7" r="14.6" fill="url(#gBe)"/>
<circle cx="757.9" cy="578.7" r="14.6" fill="#fff" opacity="0.04"/>
<line x1="818.7" y1="613.1" x2="808.0" y2="607.9" stroke="#e12121" stroke-width="5.2"/>
<line x1="894.0" y1="630.8" x2="884.1" y2="642.2" stroke="#e12121" stroke-width="5.2"/>
<circle cx="962.5" cy="400.5" r="9.7" fill="url(#gO)"/>
<circle cx="962.5" cy="400.5" r="9.7" fill="#fff" opacity="0.04"/>
<line x1="768.8" y1="585.2" x2="780.4" y2="592.1" stroke="#5eb786" stroke-width="5.2"/>
<line x1="910.4" y1="501.4" x2="915.6" y2="486.2" stroke="#e12020" stroke-width="5.2"/>
<line x1="838.0" y1="528.8" x2="844.4" y2="527.6" stroke="#e12020" stroke-width="5.2"/>
<line x1="913.3" y1="546.5" x2="920.6" y2="561.9" stroke="#e12020" stroke-width="5.2"/>
<line x1="916.2" y1="591.6" x2="921.4" y2="576.4" stroke="#e12020" stroke-width="5.2"/>
<line x1="857.3" y1="444.5" x2="846.6" y2="439.3" stroke="#e12020" stroke-width="5.2"/>
<line x1="780.4" y1="592.1" x2="795.7" y2="601.2" stroke="#e12020" stroke-width="5.2"/>
<line x1="901.6" y1="622.1" x2="894.0" y2="630.8" stroke="#5db686" stroke-width="5.2"/>
<line x1="906.5" y1="512.9" x2="910.4" y2="501.4" stroke="#5db686" stroke-width="5.2"/>
<line x1="907.8" y1="534.7" x2="913.3" y2="546.5" stroke="#5db686" stroke-width="5.2"/>
<line x1="750.4" y1="575.1" x2="742.1" y2="571.1" stroke="#5db686" stroke-width="5.2"/>
<line x1="912.3" y1="603.1" x2="916.2" y2="591.6" stroke="#5db686" stroke-width="5.2"/>
<circle cx="803.0" cy="605.5" r="9.7" fill="url(#gO)"/>
<circle cx="803.0" cy="605.5" r="9.7" fill="#fff" opacity="0.03"/>
<line x1="983.8" y1="565.1" x2="988.6" y2="564.2" stroke="#5db686" stroke-width="5.2"/>
<circle cx="841.6" cy="436.9" r="9.7" fill="url(#gO)"/>
<circle cx="841.6" cy="436.9" r="9.7" fill="#fff" opacity="0.03"/>
<circle cx="902.7" cy="523.9" r="14.6" fill="url(#gBe)"/>
<circle cx="902.7" cy="523.9" r="14.6" fill="#fff" opacity="0.03"/>
<line x1="889.3" y1="524.7" x2="875.0" y2="525.5" stroke="#5db686" stroke-width="5.2"/>
<line x1="875.0" y1="525.5" x2="856.3" y2="526.6" stroke="#e11f1f" stroke-width="5.2"/>
<circle cx="847.3" cy="527.1" r="9.7" fill="url(#gO)"/>
<circle cx="847.3" cy="527.1" r="9.7" fill="#fff" opacity="0.03"/>
<circle cx="908.5" cy="614.1" r="14.6" fill="url(#gBe)"/>
<circle cx="908.5" cy="614.1" r="14.6" fill="#fff" opacity="0.03"/>
<line x1="742.1" y1="571.1" x2="731.4" y2="565.9" stroke="#e11e1e" stroke-width="5.2"/>
<line x1="817.4" y1="588.8" x2="807.5" y2="600.2" stroke="#e11e1e" stroke-width="5.2"/>
<line x1="919.4" y1="620.6" x2="931.0" y2="627.5" stroke="#5cb685" stroke-width="5.2"/>
<line x1="839.6" y1="549.6" x2="844.8" y2="534.4" stroke="#e11e1e" stroke-width="5.2"/>
<line x1="988.6" y1="564.2" x2="995.0" y2="563.0" stroke="#e11e1e" stroke-width="5.2"/>
<line x1="931.0" y1="627.5" x2="946.3" y2="636.6" stroke="#e11d1d" stroke-width="5.2"/>
<line x1="825.0" y1="580.1" x2="817.4" y2="588.8" stroke="#5cb685" stroke-width="5.2"/>
<line x1="835.7" y1="561.1" x2="839.6" y2="549.6" stroke="#5cb685" stroke-width="5.2"/>
<line x1="901.0" y1="610.5" x2="892.7" y2="606.5" stroke="#5cb685" stroke-width="5.2"/>
<circle cx="726.4" cy="563.5" r="9.7" fill="url(#gO)"/>
<circle cx="726.4" cy="563.5" r="9.7" fill="#fff" opacity="0.02"/>
<circle cx="953.5" cy="640.9" r="9.7" fill="url(#gO)"/>
<circle cx="953.5" cy="640.9" r="9.7" fill="#fff" opacity="0.02"/>
<line x1="907.2" y1="523.1" x2="912.0" y2="522.2" stroke="#5bb685" stroke-width="5.2"/>
<circle cx="997.9" cy="562.5" r="9.7" fill="url(#gO)"/>
<circle cx="831.9" cy="572.1" r="14.6" fill="url(#gBe)"/>
<line x1="892.7" y1="606.5" x2="882.0" y2="601.3" stroke="#e01c1c" stroke-width="5.2"/>
<line x1="842.8" y1="578.6" x2="854.4" y2="585.5" stroke="#5ab584" stroke-width="5.2"/>
<line x1="912.0" y1="522.2" x2="918.4" y2="521.0" stroke="#e01b1b" stroke-width="5.2"/>
<line x1="854.4" y1="585.5" x2="869.7" y2="594.6" stroke="#e01b1b" stroke-width="5.2"/>
<line x1="824.4" y1="568.5" x2="816.1" y2="564.5" stroke="#5ab583" stroke-width="5.2"/>
<circle cx="877.0" cy="598.9" r="9.7" fill="url(#gO)"/>
<circle cx="921.3" cy="520.5" r="9.7" fill="url(#gO)"/>
<line x1="816.1" y1="564.5" x2="805.4" y2="559.3" stroke="#e01919" stroke-width="5.2"/>
<circle cx="800.4" cy="556.9" r="9.7" fill="url(#gO)"/>
<line x1="790.1" y1="326.9" x2="938.1" y2="313.7" stroke="#3a3a3a" stroke-width="0.9"/>
<line x1="790.1" y1="326.9" x2="707.7" y2="566.9" stroke="#3a3a3a" stroke-width="0.9"/>
<line x1="707.7" y1="566.9" x2="855.7" y2="553.7" stroke="#3a3a3a" stroke-width="0.9"/>
<line x1="707.7" y1="566.9" x2="860.9" y2="650.9" stroke="#3a3a3a" stroke-width="0.9"/>
<line x1="860.9" y1="650.9" x2="1008.9" y2="637.7" stroke="#3a3a3a" stroke-width="0.9"/>
<line x1="938.1" y1="313.7" x2="1091.3" y2="397.7" stroke="#3a3a3a" stroke-width="0.9"/>
<line x1="938.1" y1="313.7" x2="855.7" y2="553.7" stroke="#3a3a3a" stroke-width="0.9"/>
<line x1="855.7" y1="553.7" x2="1008.9" y2="637.7" stroke="#3a3a3a" stroke-width="0.9"/>
<line x1="1091.3" y1="397.7" x2="1008.9" y2="637.7" stroke="#3a3a3a" stroke-width="0.9"/>
<line x1="700.7" y1="670.4" x2="684.6" y2="662.0" stroke="#e02020" stroke-width="2.4"/><polygon points="678.0,658.5 686.2,659.0 683.1,665.0" fill="#e02020"/>
<line x1="700.7" y1="670.4" x2="718.0" y2="669.1" stroke="#20c030" stroke-width="2.4"/><polygon points="725.5,668.6 718.3,672.5 717.8,665.8" fill="#20c030"/>
<line x1="700.7" y1="670.4" x2="705.0" y2="653.8" stroke="#1020c0" stroke-width="2.4"/><polygon points="706.9,646.5 708.3,654.6 701.7,652.9" fill="#1020c0"/>
<circle cx="700.7" cy="670.4" r="2.6" fill="#ddd" stroke="#999" stroke-width="0.5"/>
<text x="671.8" y="656.8" font-size="9.5" font-weight="bold" text-anchor="middle" fill="#222">a</text>
<text x="731.3" y="671.6" font-size="9.5" font-weight="bold" text-anchor="middle" fill="#222">b</text>
<text x="712.3" y="644.0" font-size="9.5" font-weight="bold" text-anchor="middle" fill="#222">c</text>
</svg>
<svg style="left:0;top:0" width="2500" height="1875" viewBox="0 0 2500 1875">
<defs><clipPath id="bandclip"><rect x="1287.7" y="250.6" width="409.5" height="408.6"/></clipPath></defs>
<g clip-path="url(#bandclip)" fill="none" stroke-width="2.3" stroke-linejoin="round" stroke-linecap="round">
<g stroke="#3d51a3">
<path d="M1287.8,565.4 C1289.8,566.0 1295.9,567.6 1299.9,568.9 C1303.9,570.2 1307.7,572.0 1311.8,573.4 C1316.0,574.8 1320.8,576.4 1324.8,577.4 C1328.7,578.3 1332.2,578.9 1335.7,579.3 C1339.2,579.8 1343.0,579.4 1345.6,579.8 C1348.3,580.3 1349.3,580.3 1351.6,581.8 C1353.9,583.3 1356.9,586.5 1359.6,588.8 C1362.2,591.1 1364.3,593.4 1367.5,595.8 C1370.8,598.1 1375.5,602.7 1379.2,602.7 C1382.8,602.7 1385.2,599.1 1389.4,595.8 C1393.6,592.4 1399.3,586.8 1404.3,582.8 C1409.3,578.8 1414.4,574.6 1419.2,571.9 C1424.0,569.1 1428.7,567.6 1433.2,566.4 C1437.6,565.3 1442.4,564.9 1445.9,564.9 C1449.4,564.9 1451.0,565.6 1454.1,566.4 C1457.1,567.2 1460.2,568.6 1464.0,569.9 C1467.8,571.1 1474.8,573.2 1476.9,573.9"/>
<path d="M1287.8,565.4 C1289.4,566.2 1294.2,567.8 1297.9,569.9 C1301.6,572.0 1305.9,575.2 1309.8,577.8 C1313.8,580.5 1317.8,583.3 1321.8,585.8 C1325.8,588.3 1329.7,591.0 1333.7,592.8 C1337.7,594.5 1342.5,595.8 1345.6,596.2 C1348.8,596.7 1350.3,595.5 1352.6,595.8 C1354.9,596.0 1357.1,596.4 1359.6,597.7 C1362.1,599.1 1365.0,601.9 1367.5,603.7 C1370.0,605.5 1372.5,607.6 1374.5,608.7 C1376.4,609.8 1377.5,609.8 1379.2,610.2 C1380.8,610.5 1382.7,609.9 1384.4,610.7 C1386.1,611.4 1387.6,613.3 1389.4,614.6 C1391.2,616.0 1393.2,617.7 1395.4,618.6 C1397.5,619.5 1400.0,620.3 1402.3,620.1 C1404.7,620.0 1407.0,619.4 1409.3,617.6 C1411.6,615.9 1413.8,613.7 1416.3,609.7 C1418.7,605.7 1421.7,597.7 1424.2,593.8 C1426.7,589.8 1428.7,587.8 1431.2,585.8 C1433.7,583.8 1436.7,582.7 1439.1,581.8 C1441.6,581.0 1443.4,581.1 1445.9,580.8 C1448.4,580.6 1451.0,580.8 1454.1,580.3 C1457.1,579.8 1460.2,578.9 1464.0,577.8 C1467.8,576.8 1474.8,574.5 1476.9,573.9"/>
<path d="M1287.8,565.4 C1289.1,566.8 1292.9,570.3 1295.9,573.9 C1298.9,577.4 1302.9,583.0 1305.9,586.8 C1308.8,590.6 1311.2,592.9 1313.8,596.7 C1316.5,600.6 1319.1,605.5 1321.8,609.7 C1324.4,613.8 1327.7,619.2 1329.7,621.6 C1331.7,624.0 1332.0,624.4 1333.7,624.1 C1335.4,623.8 1337.7,620.5 1339.7,619.6 C1341.7,618.7 1343.3,618.8 1345.6,618.6 C1348.0,618.5 1350.9,618.1 1353.6,618.6 C1356.3,619.1 1358.9,620.7 1361.6,621.6 C1364.2,622.5 1366.6,623.8 1369.5,624.1 C1372.4,624.3 1376.5,624.0 1379.2,623.1 C1381.8,622.2 1382.9,620.9 1385.4,618.6 C1388.0,616.4 1391.2,613.2 1394.4,609.7 C1397.5,606.2 1400.2,602.5 1404.3,597.7 C1408.5,592.9 1414.4,585.6 1419.2,580.8 C1424.0,576.0 1428.7,571.5 1433.2,568.9 C1437.6,566.2 1443.8,565.6 1445.9,564.9"/>
<path d="M1287.8,581.8 C1289.1,582.2 1293.2,583.0 1295.9,584.3 C1298.6,585.6 1300.9,587.5 1303.9,589.8 C1306.9,592.0 1310.5,595.6 1313.8,597.7 C1317.1,599.9 1320.1,601.3 1323.8,602.7 C1327.4,604.1 1332.0,605.4 1335.7,606.2 C1339.3,606.9 1342.7,606.8 1345.6,607.2 C1348.6,607.6 1350.9,608.3 1353.6,608.7 C1356.3,609.1 1358.9,609.8 1361.6,609.7 C1364.2,609.5 1366.6,608.8 1369.5,607.7 C1372.4,606.6 1376.8,603.7 1379.2,603.2 C1381.5,602.7 1382.1,604.7 1383.4,604.7 C1384.8,604.7 1385.6,604.7 1387.4,603.2 C1389.2,601.7 1390.7,599.5 1394.4,595.8 C1398.0,592.0 1404.3,585.0 1409.3,580.8 C1414.3,576.7 1419.9,573.3 1424.2,570.9 C1428.5,568.5 1431.5,567.4 1435.2,566.4 C1438.8,565.4 1444.1,565.2 1445.9,564.9"/>
<path d="M1287.8,581.8 C1289.4,582.7 1294.9,584.3 1297.9,586.8 C1300.9,589.3 1303.2,592.6 1305.9,596.7 C1308.5,600.9 1311.5,607.2 1313.8,611.7 C1316.1,616.1 1318.0,620.7 1319.8,623.6 C1321.6,626.5 1323.3,628.1 1324.8,629.1 C1326.2,630.1 1327.2,630.0 1328.7,629.6 C1330.2,629.2 1331.9,626.7 1333.7,626.6 C1335.5,626.4 1337.7,628.1 1339.7,628.6 C1341.7,629.1 1343.3,629.5 1345.6,629.6 C1348.0,629.6 1350.9,629.6 1353.6,629.1 C1356.3,628.6 1358.9,627.4 1361.6,626.6 C1364.2,625.8 1366.6,624.7 1369.5,624.1 C1372.4,623.5 1375.8,622.2 1379.2,623.1 C1382.5,624.0 1385.4,627.2 1389.4,629.6 C1393.4,632.0 1399.2,634.7 1403.3,637.5 C1407.5,640.3 1410.8,643.5 1414.3,646.5 C1417.7,649.5 1421.2,653.3 1424.2,655.4 C1427.2,657.6 1430.8,658.7 1432.2,659.4"/>
<path d="M1303.9,659.4 C1305.4,658.2 1310.2,654.5 1312.8,652.4 C1315.5,650.4 1317.6,648.1 1319.8,647.0 C1321.9,645.8 1323.8,645.2 1325.8,645.5 C1327.7,645.7 1329.4,647.1 1331.7,648.5 C1334.0,649.9 1337.4,652.8 1339.7,653.9 C1342.0,655.1 1342.3,655.6 1345.6,655.4 C1349.0,655.3 1355.6,653.5 1359.6,652.9 C1363.5,652.4 1366.2,652.0 1369.5,651.9 C1372.8,651.9 1376.2,652.5 1379.2,652.4 C1382.1,652.4 1384.7,652.4 1387.4,651.4 C1390.1,650.5 1392.7,648.8 1395.4,646.5 C1398.0,644.2 1400.7,641.3 1403.3,637.5 C1406.0,633.7 1408.6,628.7 1411.3,623.6 C1413.9,618.5 1416.6,611.8 1419.2,606.7 C1421.9,601.6 1424.5,596.4 1427.2,592.8 C1429.8,589.1 1432.0,586.8 1435.2,584.8 C1438.3,582.8 1444.1,581.5 1445.9,580.8"/>
<path d="M1445.9,564.9 C1447.1,565.7 1450.9,567.6 1453.1,569.9 C1455.2,572.2 1457.0,575.2 1459.0,578.8 C1461.0,582.5 1463.0,587.3 1465.0,591.8 C1467.0,596.2 1469.0,601.2 1471.0,605.7 C1472.9,610.2 1475.9,616.5 1476.9,618.6"/>
<path d="M1455.0,659.4 C1456.2,657.7 1459.7,653.4 1462.0,649.5 C1464.3,645.5 1466.5,640.7 1469.0,635.5 C1471.5,630.4 1475.6,621.4 1476.9,618.6"/>
<path d="M1476.7,573.9 C1478.3,574.2 1482.9,574.6 1486.3,576.0 C1489.7,577.5 1493.5,580.4 1497.1,582.5 C1500.7,584.7 1504.4,587.3 1508.0,589.1 C1511.6,590.8 1514.3,592.1 1518.8,592.9 C1523.3,593.6 1530.7,594.0 1534.9,593.4 C1539.0,592.8 1540.5,590.3 1543.8,589.1 C1547.1,587.8 1550.5,586.5 1554.6,585.8 C1558.8,585.1 1564.5,585.0 1568.5,584.9 C1572.5,584.8 1575.0,584.8 1578.5,585.3 C1582.0,585.7 1586.1,586.9 1589.3,587.4 C1592.6,587.9 1595.3,588.5 1598.0,588.2 C1600.7,587.9 1602.5,587.3 1605.6,585.8 C1608.7,584.3 1612.9,581.2 1616.5,579.3 C1620.1,577.4 1624.2,575.4 1627.3,574.4 C1630.5,573.4 1634.1,573.5 1635.5,573.3"/>
<path d="M1476.7,573.9 C1478.0,574.4 1481.6,575.3 1484.1,577.1 C1486.6,578.9 1489.2,582.3 1491.7,584.7 C1494.2,587.2 1496.8,590.1 1499.3,591.8 C1501.8,593.4 1504.2,594.0 1506.9,594.5 C1509.6,594.9 1512.7,594.7 1515.6,594.5 C1518.5,594.3 1521.0,593.6 1524.2,593.4 C1527.5,593.2 1532.2,592.7 1534.9,593.4 C1537.6,594.1 1538.3,595.2 1540.5,597.7 C1542.7,600.3 1545.4,604.6 1548.1,608.6 C1550.8,612.6 1553.4,617.3 1556.8,621.6 C1560.2,625.9 1564.9,634.3 1568.5,634.6 C1572.1,635.0 1575.0,627.8 1578.5,623.8 C1582.0,619.8 1585.7,614.9 1589.3,610.8 C1593.0,606.6 1596.6,602.3 1600.2,598.8 C1603.8,595.4 1607.4,593.2 1611.0,590.1 C1614.7,587.1 1617.8,583.2 1621.9,580.4 C1626.0,577.6 1633.2,574.5 1635.5,573.3"/>
<path d="M1476.7,618.4 C1478.3,618.4 1483.2,618.2 1486.3,618.4 C1489.3,618.5 1492.2,618.5 1495.0,619.4 C1497.7,620.3 1499.8,621.4 1502.5,623.8 C1505.3,626.1 1508.3,630.1 1511.2,633.5 C1514.1,637.0 1517.0,641.6 1519.9,644.4 C1522.8,647.2 1526.1,649.1 1528.6,650.4 C1531.1,651.6 1532.7,651.8 1534.9,652.0 C1537.1,652.2 1539.0,652.2 1541.6,651.4 C1544.2,650.7 1547.4,649.3 1550.3,647.6 C1553.2,646.0 1555.9,643.9 1559.0,641.7 C1562.0,639.5 1566.0,635.0 1568.5,634.6 C1571.0,634.3 1572.0,638.3 1574.2,639.5 C1576.4,640.7 1579.2,641.8 1581.8,641.7 C1584.3,641.6 1586.6,640.7 1589.3,639.0 C1592.1,637.3 1594.8,634.1 1598.0,631.4 C1601.3,628.7 1605.3,624.8 1608.9,622.7 C1612.5,620.6 1615.3,619.6 1619.7,618.9 C1624.2,618.2 1632.8,618.4 1635.5,618.4"/>
<path d="M1635.5,592.3 C1636.8,591.4 1640.4,588.7 1643.6,586.9 C1646.8,585.1 1650.7,582.7 1654.4,581.5 C1658.2,580.2 1664.2,579.7 1666.2,579.3"/>
<path d="M1635.5,592.3 C1636.8,591.6 1640.8,588.3 1643.6,588.0 C1646.4,587.6 1649.6,589.1 1652.3,590.1 C1655.0,591.2 1657.6,593.5 1659.9,594.5 C1662.2,595.5 1665.1,595.8 1666.2,596.1"/>
<path d="M1635.5,593.4 C1636.8,594.3 1640.8,597.0 1643.6,598.8 C1646.4,600.6 1649.6,603.0 1652.3,604.2 C1655.0,605.5 1657.6,606.0 1659.9,606.4 C1662.2,606.9 1665.1,606.9 1666.2,607.0"/>
<path d="M1635.5,593.4 C1636.8,594.8 1640.8,599.0 1643.6,602.1 C1646.4,605.2 1649.6,609.3 1652.3,611.8 C1655.0,614.4 1657.6,616.1 1659.9,617.3 C1662.2,618.4 1665.1,618.4 1666.2,618.6"/>
<path d="M1635.5,652.0 C1636.8,650.7 1640.8,647.1 1643.6,644.4 C1646.4,641.7 1649.6,638.1 1652.3,635.7 C1655.0,633.4 1657.6,631.5 1659.9,630.3 C1662.2,629.1 1665.1,628.9 1666.2,628.7"/>
<path d="M1635.5,652.0 C1636.8,652.5 1640.8,654.5 1643.6,655.2 C1646.4,656.0 1648.5,656.4 1652.3,656.3 C1656.0,656.3 1663.9,655.2 1666.2,655.0"/>
<path d="M1666.2,584.7 C1667.5,585.1 1671.4,585.4 1674.0,586.9 C1676.5,588.3 1679.0,591.2 1681.6,593.4 C1684.1,595.6 1686.6,598.2 1689.2,599.9 C1691.7,601.6 1695.5,603.1 1696.8,603.7"/>
<path d="M1666.2,634.6 C1667.5,633.2 1671.4,628.8 1674.0,625.9 C1676.5,623.1 1679.0,619.5 1681.6,617.3 C1684.1,615.0 1686.6,613.5 1689.2,612.4 C1691.7,611.3 1695.5,611.0 1696.8,610.8"/>
<path d="M1666.2,634.6 C1667.5,634.4 1671.4,634.4 1674.0,633.5 C1676.5,632.6 1679.0,630.7 1681.6,629.2 C1684.1,627.8 1686.6,626.0 1689.2,624.9 C1691.7,623.7 1695.5,622.6 1696.8,622.2"/>
<path d="M1666.2,634.6 C1667.5,635.9 1671.4,640.0 1674.0,642.2 C1676.5,644.5 1679.0,646.7 1681.6,648.2 C1684.1,649.7 1686.6,650.7 1689.2,651.4 C1691.7,652.2 1695.5,652.6 1696.8,652.9"/>
</g>
<g stroke="#f4a124">
<path d="M1305.5,249.7 C1306.0,250.9 1307.2,254.7 1308.2,256.9 C1309.2,259.2 1310.2,261.3 1311.5,262.9 C1312.8,264.5 1314.3,265.7 1316.2,266.6 C1318.0,267.4 1320.6,267.7 1322.8,268.2 C1325.0,268.7 1327.7,269.0 1329.4,269.5 C1331.2,270.1 1332.0,271.0 1333.4,271.5 C1334.8,272.1 1336.5,273.0 1338.0,272.9 C1339.6,272.8 1341.4,271.4 1342.7,270.9 C1344.0,270.4 1344.6,270.1 1345.7,269.9 C1346.8,269.7 1347.8,269.5 1349.3,269.5 C1350.8,269.6 1353.0,269.7 1354.6,270.2 C1356.3,270.8 1357.7,271.6 1359.3,272.9 C1360.8,274.1 1362.2,276.3 1363.9,277.5 C1365.6,278.7 1367.4,279.7 1369.2,280.2 C1371.0,280.6 1372.9,280.5 1374.5,280.2 C1376.2,279.8 1376.9,279.9 1379.2,278.2 C1381.4,276.5 1385.3,271.8 1387.9,269.9 C1390.5,267.9 1392.9,267.0 1394.9,266.4 C1396.9,265.8 1398.0,265.7 1399.8,266.1 C1401.7,266.5 1403.6,266.9 1405.8,268.9 C1408.0,270.8 1410.4,274.7 1412.8,277.8 C1415.1,281.0 1417.6,284.8 1419.7,287.8 C1421.9,290.8 1423.7,293.6 1425.7,295.7 C1427.7,297.9 1429.3,299.0 1431.7,300.7 C1434.0,302.4 1437.3,304.6 1439.6,305.7 C1442.0,306.8 1443.9,306.7 1445.9,307.2 C1447.9,307.7 1449.3,307.3 1451.6,308.7 C1453.8,310.1 1456.9,313.1 1459.5,315.6 C1462.2,318.1 1464.5,321.2 1467.5,323.6 C1470.4,326.0 1475.6,329.0 1477.2,330.0"/>
<path d="M1287.6,307.7 C1289.1,307.3 1293.2,306.8 1296.3,305.4 C1299.4,303.9 1302.9,301.6 1306.2,298.7 C1309.5,295.9 1313.4,291.4 1316.2,288.1 C1318.9,284.8 1320.6,281.8 1322.8,278.8 C1325.0,275.8 1327.4,272.4 1329.4,270.2 C1331.4,268.0 1333.0,266.8 1334.7,265.6 C1336.5,264.4 1338.2,263.6 1340.0,262.9 C1341.9,262.3 1344.1,261.8 1345.7,261.7 C1347.2,261.7 1348.0,261.9 1349.3,262.6 C1350.6,263.2 1352.0,264.3 1353.3,265.6 C1354.6,266.8 1355.9,268.8 1357.3,270.2 C1358.6,271.6 1359.8,273.4 1361.2,274.2 C1362.7,275.0 1364.0,274.6 1365.9,274.9 C1367.8,275.1 1370.6,275.2 1372.5,275.5 C1374.4,275.8 1376.1,276.4 1377.2,276.8 C1378.3,277.3 1377.9,277.3 1379.2,278.3 C1380.4,279.3 1382.8,281.3 1384.9,282.8 C1387.0,284.3 1389.4,286.2 1391.9,287.3 C1394.4,288.4 1396.9,288.2 1399.8,289.3 C1402.8,290.3 1406.5,292.3 1409.8,293.7 C1413.1,295.2 1416.4,296.5 1419.7,297.7 C1423.0,299.0 1426.4,300.0 1429.7,301.2 C1433.0,302.4 1436.9,304.2 1439.6,305.2 C1442.3,306.2 1444.8,306.8 1445.9,307.2"/>
<path d="M1287.6,307.7 C1289.6,307.0 1295.9,305.1 1299.6,303.4 C1303.2,301.7 1306.8,298.7 1309.5,297.4 C1312.3,296.1 1314.2,296.2 1316.2,295.7 C1318.1,295.2 1319.8,295.4 1321.5,294.4 C1323.1,293.5 1324.6,292.0 1326.1,290.1 C1327.7,288.2 1329.3,284.7 1330.7,282.8 C1332.2,280.9 1333.5,279.7 1334.7,278.8 C1335.9,278.0 1336.9,277.6 1338.0,277.6 C1339.1,277.6 1340.1,278.2 1341.4,278.8 C1342.6,279.5 1344.3,281.2 1345.7,281.5 C1347.0,281.8 1347.6,281.6 1349.3,280.8 C1351.0,280.0 1354.2,277.9 1355.9,276.8 C1357.7,275.7 1358.8,275.4 1359.9,274.2 C1361.0,273.0 1361.5,271.4 1362.6,269.5 C1363.7,267.7 1365.1,264.7 1366.6,262.9 C1368.0,261.1 1369.6,259.8 1371.2,258.9 C1372.7,258.1 1374.5,257.8 1375.8,257.6 C1377.2,257.4 1377.5,257.8 1379.2,257.6 C1380.8,257.4 1383.5,257.1 1385.8,256.3 C1388.1,255.5 1393.0,253.2 1393.0,253.0 C1393.1,252.7 1386.1,255.1 1386.1,254.9 C1386.0,254.8 1390.9,253.0 1392.7,252.3 C1394.5,251.6 1396.0,250.9 1396.7,250.6"/>
<path d="M1287.6,326.2 C1289.1,325.9 1293.2,325.4 1296.3,323.9 C1299.4,322.4 1302.9,319.9 1306.2,317.3 C1309.5,314.6 1312.8,311.1 1316.2,308.0 C1319.5,304.9 1322.8,301.6 1326.1,298.7 C1329.4,295.9 1333.3,292.8 1336.1,290.8 C1338.8,288.8 1341.1,287.6 1342.7,286.8 C1344.3,286.0 1344.0,286.0 1345.7,285.8 C1347.3,285.6 1350.4,285.3 1352.6,285.5 C1354.9,285.6 1357.4,285.9 1359.3,286.8 C1361.1,287.7 1362.2,289.0 1363.9,290.8 C1365.6,292.5 1367.4,295.4 1369.2,297.4 C1371.0,299.4 1372.9,301.5 1374.5,302.7 C1376.2,303.9 1376.9,303.4 1379.2,304.7 C1381.4,306.0 1384.8,308.5 1387.9,310.7 C1391.0,312.8 1394.5,315.6 1397.8,317.6 C1401.2,319.6 1404.5,321.5 1407.8,322.6 C1411.1,323.7 1414.8,324.2 1417.7,324.4 C1420.7,324.5 1422.9,323.5 1425.7,323.6 C1428.5,323.6 1431.3,324.1 1434.6,324.6 C1438.0,325.1 1442.6,326.0 1445.9,326.6 C1449.2,327.1 1451.9,327.2 1454.5,328.1 C1457.1,328.9 1459.0,330.4 1461.5,331.5 C1464.0,332.7 1466.8,334.2 1469.5,335.0 C1472.1,335.8 1475.9,336.0 1477.2,336.2"/>
<path d="M1287.6,333.2 C1288.9,333.9 1292.4,336.5 1294.9,337.5 C1297.5,338.6 1300.5,339.6 1302.9,339.5 C1305.3,339.5 1307.5,338.6 1309.5,337.2 C1311.5,335.7 1313.1,332.9 1314.8,330.9 C1316.6,328.8 1318.6,326.2 1320.1,324.9 C1321.7,323.6 1322.0,323.3 1324.1,323.3 C1326.2,323.2 1330.2,324.1 1332.7,324.6 C1335.3,325.1 1337.2,325.7 1339.4,326.2 C1341.5,326.7 1342.9,327.1 1345.7,327.6 C1348.4,328.0 1352.6,328.3 1355.9,328.9 C1359.3,329.5 1363.1,330.4 1365.9,331.2 C1368.7,332.0 1370.3,332.8 1372.5,333.9 C1374.7,334.9 1377.1,336.1 1379.2,337.5 C1381.2,339.0 1382.8,341.0 1384.9,342.5 C1387.0,344.0 1389.6,345.6 1391.9,346.5 C1394.2,347.3 1396.4,347.7 1398.8,347.5 C1401.3,347.2 1404.1,345.9 1406.8,345.0 C1409.5,344.1 1411.8,342.6 1414.8,342.0 C1417.7,341.3 1421.4,341.2 1424.7,341.0 C1428.0,340.8 1431.1,340.8 1434.6,340.7 C1438.2,340.6 1442.4,340.7 1445.9,340.5 C1449.4,340.3 1452.4,340.0 1455.5,339.5 C1458.6,339.0 1461.8,338.3 1464.5,337.5 C1467.1,336.7 1469.3,335.8 1471.4,334.5 C1473.6,333.3 1476.3,330.8 1477.2,330.0"/>
<path d="M1287.6,340.5 C1288.9,340.2 1292.4,339.7 1294.9,338.5 C1297.5,337.3 1300.5,335.0 1302.9,333.2 C1305.3,331.4 1307.3,329.2 1309.5,327.6 C1311.7,326.0 1313.9,324.5 1316.2,323.6 C1318.4,322.7 1320.6,322.3 1322.8,322.3 C1325.0,322.2 1327.2,323.0 1329.4,323.3 C1331.6,323.5 1333.3,323.6 1336.1,323.9 C1338.8,324.2 1343.5,324.9 1345.7,324.9 C1347.9,325.0 1347.6,325.1 1349.3,324.3 C1351.0,323.4 1353.2,321.9 1355.9,319.9 C1358.7,318.0 1362.6,315.1 1365.9,312.6 C1369.2,310.2 1373.6,306.9 1375.8,305.4 C1378.0,303.8 1377.8,303.9 1379.2,303.4 C1380.5,302.8 1382.4,302.1 1383.9,301.9 C1385.5,301.7 1386.7,301.1 1388.4,301.9 C1390.1,302.7 1392.0,304.7 1393.9,306.7 C1395.8,308.7 1397.7,312.3 1399.8,313.8 C1402.0,315.4 1404.5,315.8 1406.8,316.1 C1409.1,316.5 1411.6,315.1 1413.8,315.8 C1415.9,316.6 1417.7,318.5 1419.7,320.6 C1421.7,322.7 1423.7,326.2 1425.7,328.6 C1427.7,330.9 1429.7,333.3 1431.7,334.5 C1433.7,335.7 1436.0,335.9 1437.6,335.8 C1439.3,335.7 1440.2,334.5 1441.6,334.0 C1443.0,333.5 1443.6,332.9 1445.9,332.7 C1448.2,332.5 1452.3,332.4 1455.5,332.7 C1458.8,333.0 1461.9,333.9 1465.5,334.5 C1469.1,335.1 1475.3,335.9 1477.2,336.2"/>
<path d="M1345.7,355.1 C1346.8,355.3 1350.4,356.0 1352.6,356.1 C1354.9,356.2 1356.5,357.4 1359.3,355.8 C1362.0,354.2 1366.4,349.1 1369.2,346.5 C1372.0,343.8 1374.2,341.3 1375.8,339.8 C1377.5,338.3 1377.5,338.7 1379.2,337.5 C1380.8,336.4 1383.6,334.2 1385.9,333.0 C1388.2,331.9 1390.7,331.1 1392.9,330.7 C1395.0,330.4 1396.9,330.1 1398.8,331.0 C1400.8,332.0 1402.8,334.3 1404.8,336.5 C1406.8,338.7 1408.8,341.8 1410.8,344.5 C1412.8,347.1 1414.8,350.4 1416.7,352.4 C1418.7,354.4 1420.9,356.2 1422.7,356.4 C1424.5,356.6 1426.0,355.4 1427.7,353.4 C1429.3,351.4 1431.0,347.3 1432.7,344.5 C1434.3,341.7 1436.8,337.8 1437.6,336.5"/>
<path d="M1287.6,340.5 C1288.5,340.6 1291.2,340.4 1292.9,340.8 C1294.7,341.3 1296.6,341.8 1298.3,343.2 C1299.9,344.5 1302.0,348.0 1302.9,349.1 C1303.8,350.2 1302.4,347.7 1303.9,349.8 C1305.4,351.9 1309.2,359.2 1311.8,361.7 C1314.5,364.2 1316.9,365.0 1319.8,365.0 C1322.7,365.0 1326.0,363.0 1329.1,361.7 C1332.2,360.4 1335.5,358.2 1338.3,357.1 C1341.2,355.9 1343.3,355.2 1345.9,355.1 C1348.6,355.0 1351.8,356.3 1354.3,356.4 C1356.8,356.5 1358.2,357.3 1360.9,355.7 C1363.5,354.2 1367.1,350.1 1370.2,347.1 C1373.3,344.1 1377.9,339.4 1379.5,337.8"/>
<path d="M1287.7,382.9 C1289.7,381.6 1296.1,377.5 1299.9,375.0 C1303.7,372.4 1307.8,368.5 1310.5,367.7 C1313.2,366.8 1313.6,366.9 1315.8,369.7 C1318.0,372.4 1320.9,379.6 1323.8,384.2 C1326.6,388.9 1329.4,394.1 1333.0,397.5 C1336.7,400.9 1342.4,404.4 1345.9,404.8 C1349.4,405.2 1351.1,404.2 1354.3,400.2 C1357.4,396.1 1361.8,385.8 1364.9,380.3 C1368.0,374.7 1370.4,369.9 1372.8,367.0 C1375.3,364.1 1377.2,362.8 1379.5,363.0 C1381.7,363.2 1383.4,365.0 1386.1,368.3 C1388.7,371.6 1392.5,378.1 1395.4,382.9 C1398.2,387.8 1400.5,392.4 1403.3,397.5 C1406.2,402.6 1408.9,407.7 1412.6,413.4 C1416.4,419.2 1421.4,426.9 1425.9,432.0 C1430.3,437.1 1435.7,441.4 1439.1,443.9 C1442.6,446.4 1443.8,447.1 1446.4,446.8 C1449.1,446.6 1451.8,445.3 1455.0,442.6 C1458.2,439.9 1461.9,435.7 1465.7,430.7 C1469.4,425.6 1475.6,415.4 1477.6,412.4"/>
<path d="M1287.7,447.2 C1289.7,445.8 1295.6,442.5 1299.9,438.6 C1304.1,434.7 1308.7,428.1 1313.2,424.0 C1317.6,419.9 1322.4,416.1 1326.4,414.1 C1330.4,412.0 1333.8,412.2 1337.0,411.8 C1340.3,411.4 1343.0,411.6 1345.9,411.7 C1348.8,411.8 1350.9,411.5 1354.3,412.4 C1357.6,413.2 1362.0,415.1 1366.2,416.7 C1370.4,418.3 1375.5,421.9 1379.5,422.0 C1383.4,422.1 1386.7,420.4 1390.1,417.4 C1393.4,414.4 1395.6,410.1 1399.3,404.1 C1403.1,398.2 1408.7,387.6 1412.6,381.6 C1416.5,375.6 1420.3,370.4 1422.6,368.3 C1424.8,366.2 1423.5,367.2 1425.9,369.0 C1428.2,370.8 1433.1,376.5 1436.5,378.9 C1439.9,381.4 1443.1,382.1 1446.4,383.6 C1449.7,385.0 1453.2,385.2 1456.4,387.6 C1459.6,389.9 1462.1,393.4 1465.7,397.5 C1469.2,401.6 1475.6,409.9 1477.6,412.4"/>
<path d="M1476.9,330.2 C1478.5,328.8 1483.2,325.6 1486.6,321.9 C1490.1,318.2 1494.0,311.9 1497.7,308.0 C1501.4,304.1 1505.1,300.7 1508.8,298.3 C1512.5,295.9 1515.5,294.6 1519.9,293.4 C1524.3,292.3 1531.0,293.1 1535.2,291.6 C1539.3,290.1 1541.4,287.3 1544.9,284.4 C1548.3,281.6 1552.0,278.0 1556.0,274.7 C1559.9,271.5 1565.0,265.3 1568.7,265.0 C1572.4,264.8 1573.8,268.7 1578.1,273.3 C1582.5,278.0 1589.7,287.0 1594.8,292.8 C1599.9,298.5 1604.0,303.1 1608.6,308.0 C1613.3,312.9 1618.0,318.2 1622.5,321.9 C1627.0,325.6 1633.5,328.8 1635.7,330.2"/>
<path d="M1476.9,330.2 C1478.8,329.3 1484.1,327.9 1488.0,324.6 C1492.0,321.4 1496.6,314.7 1500.5,310.8 C1504.4,306.8 1507.9,303.3 1511.6,301.1 C1515.3,298.8 1518.8,297.9 1522.7,297.2 C1526.6,296.4 1532.2,296.0 1535.2,296.6 C1538.2,297.3 1538.9,300.0 1540.7,301.1 C1542.6,302.2 1544.4,303.1 1546.3,303.1 C1548.1,303.1 1549.5,302.6 1551.8,301.1 C1554.1,299.6 1557.3,295.8 1560.1,294.1 C1562.9,292.5 1565.7,291.2 1568.7,291.1 C1571.7,291.0 1574.7,292.1 1578.1,293.4 C1581.6,294.8 1585.3,297.3 1589.2,299.0 C1593.2,300.7 1598.0,301.6 1601.7,303.8 C1605.4,306.0 1607.9,309.0 1611.4,312.2 C1614.9,315.3 1618.5,319.6 1622.5,322.6 C1626.5,325.6 1633.5,328.9 1635.7,330.2"/>
<path d="M1476.9,336.8 C1478.5,338.0 1483.4,342.4 1486.6,344.0 C1489.9,345.7 1493.1,346.8 1496.3,346.8 C1499.6,346.8 1502.3,345.4 1506.0,344.0 C1509.7,342.7 1514.8,339.8 1518.5,338.5 C1522.2,337.2 1525.5,336.5 1528.2,336.0 C1531.0,335.5 1532.8,335.3 1535.2,335.7 C1537.5,336.1 1539.6,336.2 1542.1,338.5 C1544.6,340.8 1547.4,345.2 1550.4,349.6 C1553.4,354.0 1557.1,360.3 1560.1,364.8 C1563.2,369.3 1566.2,373.2 1568.7,376.6 C1571.3,380.1 1572.6,382.1 1575.4,385.6 C1578.1,389.2 1581.8,395.1 1585.1,398.1 C1588.3,401.1 1590.8,402.3 1594.8,403.7 C1598.7,405.0 1604.0,405.2 1608.6,406.2 C1613.3,407.1 1618.0,408.4 1622.5,409.2 C1627.0,410.1 1633.5,410.9 1635.7,411.3"/>
<path d="M1476.9,411.3 C1478.5,410.9 1483.4,409.7 1486.6,409.2 C1489.9,408.7 1493.1,407.8 1496.3,408.1 C1499.6,408.4 1502.3,409.5 1506.0,411.3 C1509.7,413.1 1514.8,416.9 1518.5,418.9 C1522.2,420.9 1525.5,422.2 1528.2,423.1 C1531.0,423.9 1532.8,424.6 1535.2,424.2 C1537.5,423.7 1539.6,423.3 1542.1,420.3 C1544.6,417.3 1547.4,411.5 1550.4,406.4 C1553.4,401.4 1557.1,394.8 1560.1,389.8 C1563.2,384.8 1566.2,380.6 1568.7,376.6 C1571.3,372.7 1572.6,369.8 1575.4,366.2 C1578.1,362.6 1581.8,357.8 1585.1,355.1 C1588.3,352.5 1590.8,351.3 1594.8,350.3 C1598.7,349.3 1604.5,350.0 1608.6,349.3 C1612.8,348.6 1616.5,347.7 1619.7,346.1 C1623.0,344.6 1625.4,341.7 1628.0,339.9 C1630.7,338.0 1634.4,335.8 1635.7,335.0"/>
<path d="M1635.7,423.1 C1636.5,423.6 1638.8,426.1 1640.5,426.5 C1642.3,427.0 1644.0,426.9 1646.1,425.8 C1648.2,424.8 1650.7,422.3 1653.0,420.3 C1655.3,418.3 1657.7,415.6 1659.9,414.1 C1662.1,412.6 1665.1,411.7 1666.2,411.3"/>
<path d="M1635.7,423.1 C1636.7,422.0 1639.5,419.1 1641.9,416.8 C1644.3,414.5 1647.5,411.2 1650.2,409.2 C1653.0,407.2 1655.9,405.9 1658.5,405.0 C1661.2,404.2 1664.9,404.1 1666.2,403.9"/>
<path d="M1635.7,335.0 C1636.5,335.5 1638.8,337.3 1640.5,337.8 C1642.3,338.3 1644.2,338.5 1646.1,337.8 C1647.9,337.1 1649.5,334.9 1651.6,333.6 C1653.7,332.4 1656.1,331.0 1658.5,330.2 C1661.0,329.3 1664.9,328.8 1666.2,328.5"/>
<path d="M1635.7,330.2 C1636.5,330.3 1639.0,331.0 1640.5,330.9 C1642.0,330.8 1643.3,329.3 1644.7,329.5 C1646.1,329.7 1647.2,330.1 1648.8,332.3 C1650.5,334.5 1652.5,339.5 1654.4,342.7 C1656.2,345.8 1658.0,348.9 1659.9,351.0 C1661.9,353.1 1665.1,354.4 1666.2,355.1"/>
<path d="M1635.7,295.5 C1636.3,296.7 1637.6,299.9 1639.1,302.5 C1640.6,305.0 1642.6,308.0 1644.7,310.8 C1646.8,313.5 1649.1,316.8 1651.6,319.1 C1654.2,321.4 1657.5,323.5 1659.9,324.6 C1662.4,325.8 1665.1,325.8 1666.2,326.0"/>
<path d="M1635.7,294.1 C1636.5,293.2 1638.3,290.1 1640.5,288.6 C1642.7,287.1 1646.1,285.8 1648.8,285.1 C1651.6,284.4 1654.3,284.9 1657.2,284.4 C1660.1,284.0 1664.7,282.7 1666.2,282.4"/>
<path d="M1635.7,291.4 C1636.7,289.3 1639.5,282.8 1641.9,278.9 C1644.3,275.0 1647.5,270.6 1650.2,267.8 C1653.0,265.0 1655.9,263.3 1658.5,262.3 C1661.2,261.2 1664.9,261.7 1666.2,261.6"/>
<path d="M1635.7,295.5 C1636.7,297.1 1639.9,302.9 1641.9,305.2 C1643.9,307.5 1645.6,309.8 1647.5,309.4 C1649.3,308.9 1651.2,305.9 1653.0,302.5 C1654.9,299.0 1656.7,292.1 1658.5,288.6 C1660.4,285.1 1662.8,283.2 1664.1,281.7 C1665.4,280.2 1665.8,279.9 1666.2,279.6"/>
<path d="M1654.4,250.5 C1655.1,251.7 1657.2,255.4 1658.5,258.1 C1659.9,260.7 1661.4,264.3 1662.7,266.4 C1664.0,268.5 1665.6,269.9 1666.2,270.6"/>
<path d="M1678.0,250.5 C1679.3,251.4 1683.0,254.9 1686.3,256.0 C1689.5,257.2 1695.5,257.2 1697.4,257.4"/>
<path d="M1666.2,265.0 C1667.7,265.1 1672.3,264.8 1675.2,265.7 C1678.1,266.6 1680.7,268.7 1683.5,270.6 C1686.3,272.4 1689.5,275.4 1691.8,276.8 C1694.1,278.2 1696.4,278.5 1697.4,278.9"/>
<path d="M1666.2,291.4 C1667.4,291.2 1671.1,290.4 1673.8,290.7 C1676.5,290.9 1679.3,291.5 1682.1,292.8 C1684.9,294.0 1687.9,296.3 1690.4,298.3 C1693.0,300.3 1696.2,303.5 1697.4,304.5"/>
<path d="M1666.2,378.7 C1667.4,377.1 1671.1,372.7 1673.8,369.0 C1676.5,365.3 1679.3,360.7 1682.1,356.5 C1684.9,352.4 1687.9,347.3 1690.4,344.0 C1693.0,340.8 1696.2,338.3 1697.4,337.1"/>
<path d="M1666.2,378.7 C1667.4,377.6 1671.1,373.9 1673.8,371.8 C1676.5,369.7 1679.3,367.6 1682.1,366.2 C1684.9,364.8 1687.9,364.0 1690.4,363.5 C1693.0,362.9 1696.2,362.9 1697.4,362.8"/>
<path d="M1666.2,381.5 C1667.4,383.6 1671.1,389.6 1673.8,394.0 C1676.5,398.3 1679.3,403.9 1682.1,407.8 C1684.9,411.7 1687.9,415.1 1690.4,417.5 C1693.0,420.0 1696.2,421.6 1697.4,422.4"/>
</g></g>
<line x1="1345.7" y1="250.6" x2="1345.7" y2="659.2" stroke="#262626" stroke-width="1.9"/>
<line x1="1379.2" y1="250.6" x2="1379.2" y2="659.2" stroke="#262626" stroke-width="1.9"/>
<line x1="1446.0" y1="250.6" x2="1446.0" y2="659.2" stroke="#262626" stroke-width="1.9"/>
<line x1="1477.0" y1="250.6" x2="1477.0" y2="659.2" stroke="#262626" stroke-width="1.9"/>
<line x1="1535.1" y1="250.6" x2="1535.1" y2="659.2" stroke="#262626" stroke-width="1.9"/>
<line x1="1568.6" y1="250.6" x2="1568.6" y2="659.2" stroke="#262626" stroke-width="1.9"/>
<line x1="1635.6" y1="250.6" x2="1635.6" y2="659.2" stroke="#262626" stroke-width="1.9"/>
<line x1="1666.2" y1="250.6" x2="1666.2" y2="659.2" stroke="#262626" stroke-width="1.9"/>
<rect x="1287.7" y="250.6" width="409.5" height="408.6" fill="none" stroke="#262626" stroke-width="2.1"/>
<line x1="1287.7" y1="329.1" x2="1306.2" y2="329.1" stroke="#262626" stroke-width="1.5"/>
<line x1="1697.2" y1="329.1" x2="1678.7" y2="329.1" stroke="#262626" stroke-width="1.5"/>
<line x1="1287.7" y1="407.9" x2="1306.2" y2="407.9" stroke="#262626" stroke-width="1.5"/>
<line x1="1697.2" y1="407.9" x2="1678.7" y2="407.9" stroke="#262626" stroke-width="1.5"/>
<line x1="1287.7" y1="486.7" x2="1306.2" y2="486.7" stroke="#262626" stroke-width="1.5"/>
<line x1="1697.2" y1="486.7" x2="1678.7" y2="486.7" stroke="#262626" stroke-width="1.5"/>
<line x1="1287.7" y1="565.5" x2="1306.2" y2="565.5" stroke="#262626" stroke-width="1.5"/>
<line x1="1697.2" y1="565.5" x2="1678.7" y2="565.5" stroke="#262626" stroke-width="1.5"/>
<line x1="1287.7" y1="644.2" x2="1306.2" y2="644.2" stroke="#262626" stroke-width="1.5"/>
<line x1="1697.2" y1="644.2" x2="1678.7" y2="644.2" stroke="#262626" stroke-width="1.5"/>
<g font-size="25.8" fill="#1a1a1a">
<text x="1279.6" y="259.8" text-anchor="end">20</text>
<text x="1279.6" y="338.5" text-anchor="end">15</text>
<text x="1279.6" y="417.3" text-anchor="end">10</text>
<text x="1279.6" y="496.1" text-anchor="end">5</text>
<text x="1279.6" y="574.9" text-anchor="end">0</text>
<text x="1279.6" y="653.6" text-anchor="end">−5</text>
<text x="1293.0" y="687.8" text-anchor="middle">Γ</text>
<text x="1345.6" y="687.8" text-anchor="middle">M</text>
<text x="1380.2" y="687.8" text-anchor="middle">K</text>
<text x="1447.6" y="687.8" text-anchor="middle">Γ</text>
<text x="1477.3" y="687.8" text-anchor="middle">A</text>
<text x="1536.0" y="687.8" text-anchor="middle">L</text>
<text x="1568.4" y="687.8" text-anchor="middle">H</text>
<text x="1637.0" y="687.8" text-anchor="middle" textLength="47.5" lengthAdjust="spacing">A|M</text>
<text x="1670.8" y="687.8" text-anchor="middle" textLength="47.5" lengthAdjust="spacing">L|H</text>
<text x="1698.5" y="687.8" text-anchor="middle">K</text>
<text transform="translate(1237.6,452.4) rotate(-90)" text-anchor="middle" textLength="132" lengthAdjust="spacingAndGlyphs">Energy (eV)</text>
</g></svg>
<svg style="left:0;top:0" width="2500" height="1875" viewBox="0 0 2500 1875">
<defs><clipPath id="phclip"><rect x="752.1" y="861.0" width="352.4999999999999" height="352.79999999999995"/></clipPath></defs>
<line x1="752.1" y1="1194.7" x2="1104.6" y2="1194.7" stroke="#333" stroke-width="2" stroke-dasharray="8.2 3.8" stroke-dashoffset="-2"/>
<g clip-path="url(#phclip)" fill="none" stroke="#0d6b36" stroke-width="2.3" stroke-linejoin="round" stroke-linecap="round">
<path d="M752.1,921.4 C752.8,920.7 754.8,920.3 756.5,916.8 C758.1,913.4 760.3,906.0 762.2,900.8 C764.1,895.7 766.0,889.7 767.9,885.9 C769.8,882.1 772.0,879.4 773.6,877.9 C775.3,876.4 775.9,876.0 777.6,876.8 C779.4,877.5 781.7,881.2 783.9,882.5 C786.1,883.8 788.5,883.2 790.8,884.8 C793.1,886.3 795.4,889.0 797.7,891.6 C800.0,894.3 802.3,898.2 804.6,900.8 C806.8,903.4 808.9,905.6 811.4,907.1 C813.9,908.6 816.8,909.8 819.4,910.0 C822.1,910.2 824.6,909.0 827.5,908.3 C830.3,907.5 833.9,906.0 836.6,905.4 C839.3,904.8 841.0,904.4 843.7,904.5 C846.4,904.6 849.6,904.9 852.7,906.0 C855.7,907.1 858.8,909.8 861.8,911.1 C864.9,912.5 868.7,913.4 871.0,914.0 C873.3,914.5 873.7,914.3 875.6,914.3 C877.5,914.3 880.0,913.4 882.4,914.0 C884.9,914.6 887.6,915.6 890.4,918.0 C893.3,920.4 896.6,925.5 899.6,928.3 C902.7,931.1 905.9,934.4 908.8,934.6 C911.6,934.8 913.9,931.4 916.8,929.4 C919.7,927.5 922.9,924.6 926.0,923.1 C929.0,921.7 934.8,920.9 935.0,920.9 C935.2,920.8 926.9,922.6 926.9,922.6 C926.9,922.6 932.2,920.9 934.9,920.9 C937.6,920.9 940.2,921.1 942.9,922.6 C945.6,924.0 948.2,927.0 950.9,929.4 C953.6,931.9 956.5,935.2 958.9,937.5 C961.4,939.7 964.1,942.1 965.8,943.2 C967.5,944.2 967.7,944.3 969.2,943.8 C970.8,943.2 972.9,941.4 975.0,939.7 C977.1,938.1 979.6,935.6 981.8,934.0 C984.1,932.5 986.0,930.8 988.7,930.6 C991.4,930.4 995.3,932.3 997.9,932.9 C1000.5,933.5 1001.7,933.8 1004.4,934.0 C1007.1,934.2 1010.8,933.5 1013.9,934.0 C1017.0,934.5 1019.4,935.8 1023.1,936.9 C1026.7,937.9 1032.5,939.2 1035.9,940.3 C1039.3,941.5 1041.1,942.2 1043.7,943.8 C1046.3,945.3 1049.0,948.1 1051.7,949.5 C1054.4,950.9 1057.2,952.3 1059.7,952.3 C1062.2,952.4 1064.5,950.6 1066.6,950.1 C1068.7,949.5 1070.0,948.5 1072.3,948.9 C1074.6,949.3 1077.5,950.6 1080.3,952.3 C1083.2,954.1 1086.6,957.4 1089.5,959.2 C1092.4,961.0 1095.0,962.3 1097.5,963.2 C1100.0,964.2 1103.4,964.7 1104.6,964.9"/>
<path d="M752.1,974.1 C752.8,972.6 754.8,969.9 756.5,964.9 C758.1,960.0 760.3,951.6 762.2,944.3 C764.1,937.1 766.0,928.7 767.9,921.4 C769.8,914.2 771.7,906.3 773.6,900.8 C775.5,895.3 777.6,891.3 779.4,888.2 C781.1,885.2 782.0,883.1 783.9,882.5 C785.8,881.9 788.5,883.2 790.8,884.8 C793.1,886.3 795.4,889.0 797.7,891.6 C800.0,894.3 802.3,898.2 804.6,900.8 C806.8,903.4 808.9,905.6 811.4,907.1 C813.9,908.6 816.8,909.8 819.4,910.0 C822.1,910.2 824.6,909.0 827.5,908.3 C830.3,907.5 833.9,906.0 836.6,905.4 C839.3,904.8 841.0,904.1 843.7,904.5 C846.4,904.9 849.6,906.2 852.7,907.7 C855.7,909.2 858.8,911.8 861.8,913.4 C864.9,915.0 868.7,916.6 871.0,917.4 C873.3,918.3 873.7,917.7 875.6,918.6 C877.5,919.4 880.0,920.2 882.4,922.6 C884.9,925.0 887.6,929.4 890.4,932.9 C893.3,936.3 897.3,941.4 899.6,943.2 C901.9,945.0 902.7,944.0 904.2,943.8 C905.7,943.5 907.1,941.0 908.8,941.5 C910.5,941.9 912.2,944.4 914.5,946.6 C916.8,948.8 920.2,952.8 922.5,954.6 C924.8,956.5 926.2,956.8 928.2,957.5 C930.3,958.2 935.2,958.7 935.0,958.6 C934.8,958.6 926.9,956.7 926.9,956.9 C926.9,957.1 932.2,959.6 934.9,959.8 C937.6,960.0 940.4,959.3 942.9,958.1 C945.4,956.8 947.3,955.0 949.8,952.3 C952.3,949.7 955.1,945.3 957.8,942.0 C960.5,938.8 963.3,935.3 965.8,932.9 C968.3,930.5 970.4,928.9 972.7,927.7 C975.0,926.5 977.3,925.9 979.6,925.8 C981.8,925.7 984.1,925.8 986.4,927.2 C988.7,928.5 991.0,931.7 993.3,934.0 C995.6,936.3 998.3,939.4 1000.2,940.9 C1002.0,942.4 1002.7,943.2 1004.4,943.2 C1006.1,943.2 1008.3,942.2 1010.5,940.9 C1012.6,939.6 1014.9,937.1 1017.3,935.2 C1019.8,933.3 1022.3,930.9 1025.4,929.4 C1028.5,928.0 1032.8,927.4 1035.9,926.2 C1039.0,925.1 1041.1,923.8 1043.7,922.6 C1046.3,921.3 1049.0,919.7 1051.7,918.6 C1054.4,917.4 1057.1,916.6 1059.7,915.7 C1062.4,914.8 1065.3,914.6 1067.7,913.4 C1070.2,912.3 1072.1,911.1 1074.6,908.8 C1077.1,906.5 1080.1,902.5 1082.6,899.7 C1085.1,896.8 1087.2,894.0 1089.5,891.6 C1091.8,889.3 1093.9,886.9 1096.4,885.3 C1098.9,883.8 1103.2,883.0 1104.6,882.5"/>
<path d="M752.1,961.5 C753.8,961.5 758.6,961.5 762.2,961.7 C765.8,962.0 770.0,962.7 773.6,963.2 C777.3,963.8 780.7,965.0 783.9,964.9 C787.2,964.9 790.0,964.2 793.1,962.7 C796.2,961.1 799.6,957.8 802.3,955.8 C804.9,953.8 807.2,951.7 809.1,950.6 C811.0,949.5 812.0,948.9 813.7,949.1 C815.4,949.3 817.3,949.9 819.4,951.8 C821.5,953.6 824.0,957.8 826.3,960.4 C828.6,962.9 830.3,965.7 833.2,967.2 C836.1,968.8 839.3,969.4 843.7,969.5 C848.1,969.6 854.2,968.5 859.5,967.8 C864.8,967.1 870.8,967.1 875.6,965.5 C880.3,963.9 884.5,960.3 888.2,958.1 C891.8,955.9 894.7,953.8 897.3,952.3 C899.9,950.9 901.7,949.3 903.6,949.5 C905.5,949.7 906.6,951.5 908.8,953.5 C911.0,955.5 914.3,959.2 916.8,961.5 C919.3,963.8 920.6,965.7 923.7,967.2 C926.7,968.8 934.5,970.3 935.0,970.7 C935.5,971.1 926.9,969.6 926.9,969.5 C926.9,969.4 932.2,970.3 934.9,970.1 C937.6,969.9 940.2,969.2 942.9,968.4 C945.6,967.5 948.2,966.9 950.9,964.9 C953.6,963.0 956.5,959.5 958.9,956.9 C961.4,954.4 964.1,951.0 965.8,949.5 C967.5,948.0 967.9,947.6 969.2,947.8 C970.6,947.9 971.9,949.5 973.8,950.3 C975.7,951.0 978.2,952.2 980.7,952.3 C983.2,952.5 985.9,951.9 988.7,951.0 C991.6,950.0 995.3,947.9 997.9,946.6 C1000.5,945.4 1001.2,943.5 1004.4,943.4 C1007.7,943.3 1013.5,946.0 1017.3,946.0 C1021.2,946.1 1024.6,944.7 1027.7,943.8 C1030.7,942.8 1034.5,940.9 1035.9,940.3"/>
<path d="M752.1,969.5 C753.8,969.3 758.6,969.0 762.2,968.4 C765.8,967.8 770.0,966.7 773.6,966.1 C777.3,965.5 779.2,965.0 783.9,964.9 C788.7,964.9 795.4,965.0 802.3,965.5 C809.1,966.0 818.3,967.1 825.2,967.8 C832.1,968.5 838.0,969.0 843.7,969.5 C849.4,970.0 854.2,970.4 859.5,970.7 C864.8,971.0 869.8,971.2 875.6,971.2 C881.3,971.2 888.0,970.8 893.9,970.7 C899.8,970.6 904.2,970.8 911.1,970.7 C917.9,970.6 932.4,970.2 935.0,970.1 C937.6,970.0 926.9,970.1 926.9,970.1 C926.9,970.1 931.8,970.2 934.9,970.1 C937.9,970.0 941.6,969.7 945.2,969.5 C948.8,969.3 952.8,969.3 956.6,969.0 C960.5,968.6 964.7,968.1 968.1,967.2 C971.5,966.4 974.2,965.3 977.3,963.8 C980.3,962.3 983.4,960.4 986.4,958.1 C989.5,955.8 992.6,952.2 995.6,950.1 C998.6,948.0 1001.7,946.0 1004.4,945.5 C1007.1,944.9 1008.5,946.7 1011.6,946.6 C1014.7,946.5 1019.0,946.0 1023.1,944.9 C1027.1,943.9 1033.8,941.1 1035.9,940.3"/>
<path d="M752.1,971.8 C754.7,971.1 762.6,969.0 767.9,967.8 C773.2,966.7 776.3,965.1 783.9,964.9 C791.6,964.8 803.8,966.2 813.7,967.0 C823.7,967.8 836.1,969.2 843.7,969.5 C851.4,969.9 854.2,969.0 859.5,969.0 C864.8,968.9 869.8,969.6 875.6,969.0 C881.3,968.3 888.0,966.1 893.9,964.9 C899.8,963.8 904.2,962.7 911.1,962.1 C917.9,961.5 932.4,961.5 935.0,961.5 C937.6,961.5 926.9,962.0 926.9,962.1 C926.9,962.2 930.3,962.1 934.9,962.1 C939.5,962.1 948.1,962.2 954.4,962.1 C960.7,962.0 968.1,961.3 972.7,961.5 C977.3,961.7 978.8,962.1 981.8,963.2 C984.9,964.4 988.0,966.9 991.0,968.4 C994.1,969.8 997.9,971.1 1000.2,971.8 C1002.4,972.5 1002.5,971.8 1004.4,972.4 C1006.3,973.0 1009.1,973.9 1011.6,975.3 C1014.2,976.6 1017.0,979.0 1019.6,980.4 C1022.3,981.8 1024.9,983.2 1027.7,983.8 C1030.4,984.5 1033.2,984.7 1035.9,984.4 C1038.6,984.1 1041.2,983.5 1043.7,982.1 C1046.1,980.8 1048.3,978.5 1050.6,976.4 C1052.9,974.3 1055.1,971.3 1057.4,969.5 C1059.7,967.8 1061.8,966.6 1064.3,965.9 C1066.8,965.1 1065.6,965.3 1072.3,965.2 C1079.0,965.1 1099.2,965.2 1104.6,965.2"/>
<path d="M843.7,969.5 C846.4,969.2 854.2,968.3 859.5,967.8 C864.8,967.3 869.8,967.4 875.6,966.7 C881.3,965.9 888.0,964.1 893.9,963.2 C899.8,962.4 904.2,961.9 911.1,961.5 C917.9,961.1 932.4,961.1 935.0,960.9 C937.6,960.7 926.9,960.6 926.9,960.4 C926.9,960.2 933.6,959.9 934.9,959.8"/>
<path d="M752.1,974.1 C753.2,976.8 756.1,983.3 758.7,990.1 C761.4,997.0 764.9,1007.7 767.9,1015.3 C771.0,1023.0 775.2,1031.6 777.1,1036.0 C779.0,1040.3 778.2,1039.6 779.4,1041.5 C780.5,1043.3 782.0,1046.2 783.9,1047.2 C785.8,1048.1 788.5,1047.9 790.8,1047.2 C793.1,1046.4 795.4,1044.7 797.7,1042.6 C800.0,1040.5 802.3,1038.2 804.6,1034.6 C806.8,1031.0 808.9,1026.4 811.4,1021.1 C813.9,1015.8 816.8,1008.3 819.4,1002.7 C822.1,997.2 825.0,991.5 827.5,987.9 C829.9,984.2 831.6,982.5 834.3,981.0 C837.0,979.5 840.7,979.8 843.7,978.7 C846.8,977.5 850.0,975.1 852.7,974.1 C855.3,973.2 857.2,972.0 859.5,973.0 C861.8,973.9 864.5,977.4 866.4,979.8 C868.3,982.3 869.5,985.8 871.0,987.9 C872.5,989.9 873.7,991.3 875.6,991.9 C877.5,992.4 879.6,991.1 882.4,991.3 C885.3,991.5 889.9,993.6 892.7,993.0 C895.6,992.4 897.1,989.7 899.6,987.9 C902.1,986.0 904.4,983.7 907.6,982.1 C910.9,980.5 914.5,979.3 919.1,978.1 C923.6,977.0 933.7,975.8 935.0,975.3 C936.3,974.7 926.9,974.7 926.9,974.7 C926.9,974.7 931.8,975.0 934.9,975.3 C937.9,975.5 941.4,975.8 945.2,976.4 C949.0,977.0 953.6,978.2 957.8,978.7 C962.0,979.2 966.4,979.5 970.4,979.3 C974.4,979.1 978.0,978.3 981.8,977.5 C985.7,976.8 989.5,975.5 993.3,974.7 C997.1,973.8 1002.6,972.8 1004.4,972.4"/>
<path d="M843.7,978.7 C844.8,979.6 847.7,982.1 850.4,984.4 C853.0,986.7 856.9,990.1 859.5,992.4 C862.2,994.7 864.5,996.6 866.4,998.2 C868.3,999.7 869.5,1000.7 871.0,1001.6 C872.5,1002.5 873.6,1002.5 875.6,1003.3 C877.6,1004.2 880.9,1004.4 883.0,1006.7 C885.1,1009.1 886.3,1013.5 888.2,1017.6 C890.0,1021.7 892.1,1026.8 893.9,1031.4 C895.7,1035.9 896.7,1038.9 899.0,1045.0 C901.3,1051.1 905.1,1059.6 907.6,1067.8 C910.2,1076.0 912.2,1085.2 914.5,1094.1 C916.8,1103.1 919.1,1111.7 921.4,1121.6 C923.7,1131.5 926.0,1141.7 928.2,1153.7 C930.5,1165.7 933.9,1186.3 935.0,1193.8 C936.1,1201.2 934.9,1197.6 934.9,1198.4"/>
<path d="M843.7,1062.6 C844.4,1062.0 846.2,1061.2 848.1,1058.6 C849.9,1056.1 852.7,1051.0 854.9,1047.2 C857.2,1043.4 860.1,1039.1 861.8,1035.7 C863.5,1032.3 863.7,1030.2 865.3,1026.8 C866.8,1023.4 869.3,1017.9 871.0,1015.3 C872.7,1012.8 873.6,1012.8 875.6,1011.3 C877.6,1009.9 880.9,1008.7 883.0,1006.7 C885.1,1004.8 886.5,1001.3 888.2,999.9 C889.8,998.4 891.2,997.5 892.7,997.9 C894.3,998.4 895.6,999.6 897.3,1002.7 C899.0,1005.8 901.1,1011.7 903.0,1016.5 C905.0,1021.3 907.1,1026.6 908.8,1031.4 C910.5,1036.1 912.4,1042.4 913.4,1045.0 C914.3,1047.6 913.2,1044.0 914.5,1047.2 C915.8,1050.4 919.1,1059.2 921.4,1064.4 C923.7,1069.5 926.0,1074.2 928.2,1078.1 C930.5,1082.0 935.2,1086.5 935.0,1087.8 C934.8,1089.2 926.9,1086.1 926.9,1086.1 C926.9,1086.1 933.6,1087.5 934.9,1087.8"/>
<path d="M752.1,1087.3 C753.8,1087.6 759.2,1088.0 762.2,1089.6 C765.2,1091.1 767.7,1093.8 770.2,1096.4 C772.7,1099.1 774.8,1102.6 777.1,1105.6 C779.4,1108.5 781.6,1113.4 783.9,1114.2 C786.2,1114.9 788.5,1112.7 790.8,1110.2 C793.1,1107.6 795.4,1102.9 797.7,1098.7 C800.0,1094.5 802.3,1088.4 804.6,1085.0 C806.8,1081.5 808.8,1080.0 811.4,1078.1 C814.1,1076.2 817.2,1075.0 820.6,1073.5 C824.0,1072.0 828.2,1070.1 832.0,1068.9 C835.9,1067.8 841.0,1066.5 843.7,1066.6 C846.4,1066.8 846.2,1069.2 848.1,1070.1 C849.9,1070.9 852.7,1071.9 854.9,1071.8 C857.2,1071.7 859.5,1070.6 861.8,1069.5 C864.1,1068.5 866.4,1066.5 868.7,1065.5 C871.0,1064.5 873.7,1063.6 875.6,1063.8 C877.5,1064.0 878.2,1064.3 880.1,1066.6 C882.1,1069.0 884.3,1072.8 887.0,1078.1 C889.7,1083.4 893.1,1091.8 896.2,1098.7 C899.2,1105.6 901.9,1111.3 905.3,1119.3 C908.8,1127.3 913.0,1137.5 916.8,1146.8 C920.6,1156.2 925.2,1167.6 928.2,1175.4 C931.3,1183.3 933.9,1190.0 935.0,1193.8 C936.1,1197.6 934.9,1197.6 934.9,1198.4"/>
<path d="M752.1,1192.6 C752.8,1188.4 754.8,1177.4 756.5,1167.4 C758.1,1157.5 760.3,1144.1 762.2,1133.1 C764.1,1122.0 766.0,1110.6 767.9,1101.0 C769.8,1091.5 771.7,1083.1 773.6,1075.8 C775.5,1068.6 777.6,1062.3 779.4,1057.5 C781.1,1052.7 783.2,1048.9 783.9,1047.2"/>
<path d="M752.1,1192.6 C753.8,1187.5 758.6,1171.6 762.2,1161.7 C765.8,1151.8 770.0,1141.0 773.6,1133.1 C777.3,1125.2 781.1,1117.5 783.9,1114.2 C786.8,1110.8 788.5,1114.3 790.8,1113.0 C793.1,1111.8 795.0,1109.9 797.7,1106.7 C800.4,1103.6 803.8,1098.5 806.8,1094.1 C809.9,1089.7 813.0,1084.2 816.0,1080.4 C819.1,1076.6 822.1,1073.8 825.2,1071.2 C828.2,1068.7 831.2,1066.4 834.3,1064.9 C837.4,1063.5 841.0,1064.6 843.7,1062.6 C846.4,1060.6 847.7,1055.9 850.4,1052.9 C853.0,1049.9 856.5,1046.8 859.5,1044.9 C862.6,1043.0 866.0,1042.2 868.7,1041.5 C871.4,1040.7 873.3,1040.4 875.6,1040.5 C877.9,1040.6 879.8,1040.5 882.4,1042.0 C885.1,1043.5 888.2,1046.1 891.6,1049.5 C895.0,1052.8 899.2,1057.7 903.0,1062.1 C906.9,1066.5 910.7,1072.0 914.5,1075.8 C918.3,1079.6 922.5,1083.0 926.0,1085.0 C929.4,1087.0 933.5,1087.4 935.0,1087.8"/>
<path d="M843.7,1066.6 C844.8,1067.8 848.1,1071.2 850.4,1073.5 C852.6,1075.8 854.6,1078.1 857.2,1080.4 C859.9,1082.7 863.3,1085.6 866.4,1087.3 C869.5,1088.9 872.9,1089.3 875.6,1090.1 C878.2,1091.0 879.8,1090.6 882.4,1092.4 C885.1,1094.2 888.5,1097.3 891.6,1101.0 C894.6,1104.7 897.5,1109.0 900.8,1114.7 C904.0,1120.5 907.4,1127.5 911.1,1135.4 C914.7,1143.2 918.5,1152.0 922.5,1161.7 C926.5,1171.4 932.9,1187.7 935.0,1193.8 C937.1,1199.9 934.9,1197.6 934.9,1198.4"/>
<path d="M934.9,970.1 C936.2,970.4 940.0,971.0 942.9,971.8 C945.8,972.7 949.2,973.9 952.1,975.3 C954.9,976.6 957.4,977.9 960.1,979.8 C962.8,981.7 965.2,984.2 968.1,986.7 C971.0,989.2 974.2,992.6 977.3,994.7 C980.3,996.8 983.4,997.6 986.4,999.3 C989.5,1001.0 992.6,1003.0 995.6,1005.0 C998.6,1007.0 1002.1,1010.8 1004.4,1011.3 C1006.7,1011.9 1007.6,1010.3 1009.3,1008.5 C1011.1,1006.7 1013.1,1003.1 1015.1,1000.4 C1017.0,997.8 1018.7,994.4 1020.8,992.4 C1022.9,990.4 1025.1,989.2 1027.7,988.4 C1030.2,987.7 1033.6,988.2 1035.9,987.9 C1038.2,987.5 1039.5,986.6 1041.4,986.1 C1043.3,985.7 1045.2,984.7 1047.1,985.0 C1049.0,985.3 1050.8,985.8 1052.9,987.9 C1055.0,989.9 1057.4,993.2 1059.7,997.0 C1062.0,1000.8 1064.3,1006.2 1066.6,1010.8 C1068.9,1015.3 1071.2,1020.3 1073.5,1024.5 C1075.8,1028.7 1078.4,1033.7 1080.3,1036.0 C1082.2,1038.2 1083.0,1036.7 1084.9,1038.0 C1086.8,1039.3 1089.5,1042.3 1091.8,1043.7 C1094.1,1045.2 1096.5,1046.0 1098.7,1046.6 C1100.8,1047.2 1103.6,1047.3 1104.6,1047.4"/>
<path d="M934.9,1087.8 C935.8,1087.2 938.7,1086.8 940.6,1083.8 C942.5,1080.9 944.2,1075.2 946.3,1070.1 C948.4,1064.9 951.1,1058.1 953.2,1052.9 C955.3,1047.8 957.6,1043.1 958.9,1039.2 C960.3,1035.2 959.7,1033.2 961.2,1029.1 C962.8,1024.9 966.0,1017.8 968.1,1014.2 C970.2,1010.6 972.1,1008.8 973.8,1007.3 C975.5,1005.9 976.7,1005.2 978.4,1005.6 C980.1,1006.0 982.0,1007.0 984.1,1009.6 C986.2,1012.2 988.7,1017.3 991.0,1021.1 C993.3,1024.8 995.6,1029.0 997.9,1031.9 C1000.1,1034.9 1002.5,1036.6 1004.4,1038.6 C1006.3,1040.6 1007.6,1041.0 1009.3,1043.7 C1011.1,1046.5 1013.1,1051.4 1015.1,1055.2 C1017.0,1059.0 1018.7,1063.0 1020.8,1066.6 C1022.9,1070.3 1025.1,1074.4 1027.7,1077.0 C1030.2,1079.5 1032.8,1081.5 1035.9,1082.1 C1039.0,1082.7 1042.4,1080.8 1046.0,1080.4 C1049.6,1080.0 1054.0,1079.5 1057.4,1079.5 C1060.9,1079.5 1063.9,1079.7 1066.6,1080.4 C1069.3,1081.1 1071.2,1081.9 1073.5,1083.8 C1075.8,1085.7 1078.0,1088.8 1080.3,1091.8 C1082.6,1094.9 1084.9,1099.1 1087.2,1102.2 C1089.5,1105.2 1091.8,1108.3 1094.1,1110.2 C1096.4,1112.1 1099.2,1112.9 1101.0,1113.6 C1102.7,1114.3 1104.0,1114.1 1104.6,1114.2"/>
<path d="M934.9,1087.8 C936.2,1087.5 940.2,1087.5 942.9,1086.1 C945.6,1084.7 948.2,1082.3 950.9,1079.2 C953.6,1076.2 956.5,1072.2 958.9,1067.8 C961.4,1063.4 963.7,1057.5 965.8,1052.9 C967.9,1048.3 970.0,1043.9 971.5,1040.3 C973.1,1036.7 972.9,1035.9 975.0,1031.4 C977.1,1026.8 981.3,1018.6 984.1,1013.0 C987.0,1007.5 989.7,1001.8 992.2,998.2 C994.6,994.5 997.0,992.7 999.0,991.3 C1001.1,989.9 1002.3,989.7 1004.4,989.6 C1006.5,989.5 1009.1,989.7 1011.6,990.7 C1014.2,991.8 1017.0,993.7 1019.6,995.9 C1022.3,998.1 1024.9,1001.0 1027.7,1003.9 C1030.4,1006.7 1033.6,1010.8 1035.9,1013.0 C1038.2,1015.3 1039.5,1015.3 1041.4,1017.6 C1043.3,1019.9 1045.2,1023.4 1047.1,1026.8 C1049.0,1030.2 1051.1,1035.2 1052.9,1038.2 C1054.6,1041.3 1055.5,1041.1 1057.4,1044.9 C1059.3,1048.7 1062.0,1056.0 1064.3,1060.9 C1066.6,1065.9 1068.9,1071.0 1071.2,1074.7 C1073.5,1078.3 1075.8,1080.0 1078.0,1082.7 C1080.3,1085.4 1082.6,1087.6 1084.9,1090.7 C1087.2,1093.8 1089.5,1097.8 1091.8,1101.0 C1094.1,1104.3 1096.5,1108.0 1098.7,1110.2 C1100.8,1112.4 1103.6,1113.5 1104.6,1114.2"/>
<path d="M934.9,1198.4 C935.5,1195.7 936.6,1191.3 938.3,1182.3 C940.0,1173.3 942.9,1156.6 945.2,1144.5 C947.5,1132.5 949.8,1120.7 952.1,1110.2 C954.4,1099.7 956.6,1089.6 958.9,1081.5 C961.2,1073.5 963.5,1068.2 965.8,1062.1 C968.1,1056.0 970.4,1049.9 972.7,1044.9 C975.0,1039.9 977.1,1035.9 979.6,1032.3 C982.0,1028.7 984.9,1026.2 987.6,1023.4 C990.2,1020.5 992.8,1017.3 995.6,1015.3 C998.4,1013.3 1002.9,1012.0 1004.4,1011.3"/>
<path d="M934.9,1198.4 C936.2,1194.2 939.7,1183.1 942.9,1173.2 C946.2,1163.2 950.5,1150.3 954.4,1138.8 C958.2,1127.3 962.0,1115.1 965.8,1104.4 C969.6,1093.8 973.4,1083.3 977.3,1074.7 C981.1,1066.1 985.3,1058.4 988.7,1052.9 C992.2,1047.4 995.3,1043.8 997.9,1041.5 C1000.5,1039.1 1002.3,1039.3 1004.4,1038.6 C1006.5,1037.9 1008.5,1038.2 1010.5,1037.4 C1012.4,1036.7 1013.3,1036.5 1016.2,1034.0 C1019.1,1031.5 1024.4,1025.7 1027.7,1022.2 C1030.9,1018.7 1034.5,1014.6 1035.9,1013.0"/>
<path d="M934.9,1198.4 C936.2,1194.4 939.7,1184.2 942.9,1174.5 C946.2,1164.9 950.5,1151.8 954.4,1140.5 C958.2,1129.3 962.0,1117.5 965.8,1107.0 C969.6,1096.4 973.4,1085.8 977.3,1077.2 C981.1,1068.6 985.1,1061.5 988.7,1055.4 C992.3,1049.4 996.4,1043.7 999.0,1040.9 C1001.6,1038.1 1003.5,1039.0 1004.4,1038.6"/>
</g>
<line x1="783.9" y1="861.0" x2="783.9" y2="1213.8" stroke="#262626" stroke-width="1.7"/>
<line x1="843.7" y1="861.0" x2="843.7" y2="1213.8" stroke="#262626" stroke-width="1.7"/>
<line x1="875.6" y1="861.0" x2="875.6" y2="1213.8" stroke="#262626" stroke-width="1.7"/>
<line x1="934.9" y1="861.0" x2="934.9" y2="1213.8" stroke="#262626" stroke-width="1.7"/>
<line x1="1004.4" y1="861.0" x2="1004.4" y2="1213.8" stroke="#262626" stroke-width="1.7"/>
<line x1="1035.9" y1="861.0" x2="1035.9" y2="1213.8" stroke="#262626" stroke-width="1.7"/>
<rect x="752.1" y="861.0" width="352.4999999999999" height="352.79999999999995" fill="none" stroke="#262626" stroke-width="2"/>
<line x1="752.1" y1="865.1" x2="768.1" y2="865.1" stroke="#262626" stroke-width="1.6"/>
<line x1="1104.6" y1="865.1" x2="1088.6" y2="865.1" stroke="#262626" stroke-width="1.6"/>
<line x1="752.1" y1="930.8" x2="768.1" y2="930.8" stroke="#262626" stroke-width="1.6"/>
<line x1="1104.6" y1="930.8" x2="1088.6" y2="930.8" stroke="#262626" stroke-width="1.6"/>
<line x1="752.1" y1="997.0" x2="768.1" y2="997.0" stroke="#262626" stroke-width="1.6"/>
<line x1="1104.6" y1="997.0" x2="1088.6" y2="997.0" stroke="#262626" stroke-width="1.6"/>
<line x1="752.1" y1="1063.0" x2="768.1" y2="1063.0" stroke="#262626" stroke-width="1.6"/>
<line x1="1104.6" y1="1063.0" x2="1088.6" y2="1063.0" stroke="#262626" stroke-width="1.6"/>
<line x1="752.1" y1="1128.7" x2="768.1" y2="1128.7" stroke="#262626" stroke-width="1.6"/>
<line x1="1104.6" y1="1128.7" x2="1088.6" y2="1128.7" stroke="#262626" stroke-width="1.6"/>
<line x1="752.1" y1="1194.7" x2="768.1" y2="1194.7" stroke="#262626" stroke-width="1.6"/>
<line x1="1104.6" y1="1194.7" x2="1088.6" y2="1194.7" stroke="#262626" stroke-width="1.6"/>
<g font-size="21.6" fill="#1a1a1a">
<text transform="translate(742.6,874.1) scale(1.07,1)" text-anchor="end">500</text>
<text transform="translate(742.6,939.5) scale(1.07,1)" text-anchor="end">400</text>
<text transform="translate(742.6,1005.7) scale(1.07,1)" text-anchor="end">300</text>
<text transform="translate(742.6,1071.7) scale(1.07,1)" text-anchor="end">200</text>
<text transform="translate(742.6,1137.4) scale(1.07,1)" text-anchor="end">100</text>
<text transform="translate(742.6,1203.4) scale(1.07,1)" text-anchor="end">0</text>
<text transform="translate(753.3,1239.4) scale(1.07,1)" text-anchor="middle">Γ</text>
<text transform="translate(784.1,1239.4) scale(1.07,1)" text-anchor="middle">A</text>
<text transform="translate(844.2,1239.4) scale(1.07,1)" text-anchor="middle">L</text>
<text transform="translate(875.3,1239.4) scale(1.07,1)" text-anchor="middle">M</text>
<text transform="translate(936.0,1239.4) scale(1.07,1)" text-anchor="middle">Γ</text>
<text transform="translate(1004.6,1239.4) scale(1.07,1)" text-anchor="middle">K</text>
<text transform="translate(1035.8,1239.4) scale(1.07,1)" text-anchor="middle">H</text>
<text transform="translate(1105.0,1239.4) scale(1.07,1)" text-anchor="middle">A</text>
<text transform="translate(689.8,1037.3) rotate(-90)" font-size="20.2" text-anchor="middle" textLength="184" lengthAdjust="spacingAndGlyphs">Frequency (THz)</text>
</g></svg>
<div class="abs" style="left:1310.2px;top:846.9px;width:418.7px;height:410.5px;background:#1f1f1f;overflow:hidden;"></div>
<div class="abs" style="left:1310.2px;top:1204.5px;width:418.7px;height:52.9px;background:#383838;"></div>
<div class="abs" style="left:1691.0px;top:846.9px;width:0.7px;height:357.6px;background:#3a3a3a;"></div>
<div class="abs" style="left:1310.2px;top:975.5px;width:380.8px;height:10.6px;border-top:0.6px solid #292929;border-bottom:0.6px solid #292929;box-sizing:border-box;"></div>
<div class="abs" style="left:1312.9px;top:847.83px;font-family:&quot;Liberation Mono&quot;,monospace;font-size:7.87px;line-height:10.655px;color:#d4d4d4;white-space:pre;letter-spacing:0px;"><div>&nbsp;&nbsp;&nbsp;&nbsp;&nbsp;&nbsp;&nbsp;&nbsp;&nbsp;&nbsp;&nbsp;&nbsp;&nbsp;&nbsp;&nbsp;&nbsp;<span style="color:#6a9955"># check if line has sufficient data</span></div><div>&nbsp;&nbsp;&nbsp;&nbsp;&nbsp;&nbsp;&nbsp;&nbsp;&nbsp;&nbsp;&nbsp;&nbsp;&nbsp;&nbsp;&nbsp;&nbsp;<span style="color:#c586c0">if</span> <span style="color:#dcdcaa">len</span>(line_data) &lt; <span style="color:#b5cea8">3</span>:</div><div>&nbsp;&nbsp;&nbsp;&nbsp;&nbsp;&nbsp;&nbsp;&nbsp;&nbsp;&nbsp;&nbsp;&nbsp;&nbsp;&nbsp;&nbsp;&nbsp;&nbsp;&nbsp;&nbsp;&nbsp;<span style="color:#c586c0">continue</span></div><div>&nbsp;</div><div>&nbsp;&nbsp;&nbsp;&nbsp;&nbsp;&nbsp;&nbsp;&nbsp;&nbsp;&nbsp;&nbsp;&nbsp;&nbsp;&nbsp;&nbsp;&nbsp;<span style="color:#c586c0">try</span>:</div><div>&nbsp;&nbsp;&nbsp;&nbsp;&nbsp;&nbsp;&nbsp;&nbsp;&nbsp;&nbsp;&nbsp;&nbsp;&nbsp;&nbsp;&nbsp;&nbsp;&nbsp;&nbsp;&nbsp;&nbsp;energy, occupancy = <span style="color:#dcdcaa">map</span>(<span style="color:#4ec9b0">float</span>, line_data[<span style="color:#b5cea8">1</span>:<span style="color:#b5cea8">3</span>])</div><div>&nbsp;&nbsp;&nbsp;&nbsp;&nbsp;&nbsp;&nbsp;&nbsp;&nbsp;&nbsp;&nbsp;&nbsp;&nbsp;&nbsp;&nbsp;&nbsp;<span style="color:#c586c0">except</span> ValueError <span style="color:#c586c0">as</span> e:</div><div>&nbsp;&nbsp;&nbsp;&nbsp;&nbsp;&nbsp;&nbsp;&nbsp;&nbsp;&nbsp;&nbsp;&nbsp;&nbsp;&nbsp;&nbsp;&nbsp;&nbsp;&nbsp;&nbsp;&nbsp;<span style="color:#c586c0">continue</span></div><div>&nbsp;</div><div>&nbsp;&nbsp;&nbsp;&nbsp;&nbsp;&nbsp;&nbsp;&nbsp;&nbsp;&nbsp;&nbsp;&nbsp;&nbsp;&nbsp;&nbsp;&nbsp;<span style="color:#c586c0">if</span> occupancy &gt; <span style="color:#b5cea8">0.0</span>:</div><div>&nbsp;&nbsp;&nbsp;&nbsp;&nbsp;&nbsp;&nbsp;&nbsp;&nbsp;&nbsp;&nbsp;&nbsp;&nbsp;&nbsp;&nbsp;&nbsp;&nbsp;&nbsp;&nbsp;&nbsp;vbm_energy = energy  <span style="color:#6a9955"># if band occupied, vbm update</span></div><div>&nbsp;&nbsp;&nbsp;&nbsp;&nbsp;&nbsp;&nbsp;&nbsp;&nbsp;&nbsp;&nbsp;&nbsp;&nbsp;&nbsp;&nbsp;&nbsp;<span style="color:#c586c0">elif</span> occupancy == <span style="color:#b5cea8">0.0</span> <span style="color:#569cd6">and</span> cbm_energy <span style="color:#569cd6">is</span> <span style="color:#569cd6">None</span>:</div><div>&nbsp;&nbsp;&nbsp;&nbsp;&nbsp;&nbsp;&nbsp;&nbsp;&nbsp;&nbsp;&nbsp;&nbsp;&nbsp;&nbsp;&nbsp;&nbsp;&nbsp;&nbsp;&nbsp;&nbsp;cbm_energy = energy  <span style="color:#6a9955"># cbm is first unoccupied band</span></div><div>&nbsp;</div><div>&nbsp;&nbsp;&nbsp;&nbsp;&nbsp;&nbsp;&nbsp;&nbsp;<span style="color:#c586c0">if</span> vbm_energy <span style="color:#569cd6">is</span> <span style="color:#569cd6">not</span> <span style="color:#569cd6">None</span> <span style="color:#569cd6">and</span> cbm_energy <span style="color:#569cd6">is</span> <span style="color:#569cd6">not</span> <span style="color:#569cd6">None</span>:</div><div>&nbsp;&nbsp;&nbsp;&nbsp;&nbsp;&nbsp;&nbsp;&nbsp;&nbsp;&nbsp;&nbsp;&nbsp;bandgap = cbm_energy - vbm_energy</div><div>&nbsp;&nbsp;&nbsp;&nbsp;&nbsp;&nbsp;&nbsp;&nbsp;&nbsp;&nbsp;&nbsp;&nbsp;<span style="color:#dcdcaa">print</span>(<span style="color:#569cd6">f</span><span style="color:#ce9178">"VBM Energy: {vbm_energy} eV"</span>)</div><div>&nbsp;&nbsp;&nbsp;&nbsp;&nbsp;&nbsp;&nbsp;&nbsp;&nbsp;&nbsp;&nbsp;&nbsp;<span style="color:#dcdcaa">print</span>(<span style="color:#569cd6">f</span><span style="color:#ce9178">"CBM Energy: {cbm_energy} eV"</span>)</div><div>&nbsp;&nbsp;&nbsp;&nbsp;&nbsp;&nbsp;&nbsp;&nbsp;&nbsp;&nbsp;&nbsp;&nbsp;<span style="color:#dcdcaa">print</span>(<span style="color:#569cd6">f</span><span style="color:#ce9178">"Bandgap: {bandgap} eV"</span>)</div><div>&nbsp;&nbsp;&nbsp;&nbsp;&nbsp;&nbsp;&nbsp;&nbsp;&nbsp;&nbsp;&nbsp;&nbsp;<span style="color:#c586c0">return</span> vbm_energy, cbm_energy, bandgap</div><div>&nbsp;&nbsp;&nbsp;&nbsp;&nbsp;&nbsp;&nbsp;&nbsp;<span style="color:#c586c0">else</span>:</div><div>&nbsp;&nbsp;&nbsp;&nbsp;&nbsp;&nbsp;&nbsp;&nbsp;&nbsp;&nbsp;&nbsp;&nbsp;<span style="color:#dcdcaa">print</span>(<span style="color:#ce9178">"cannot determine VBM and CBM"</span>)</div><div>&nbsp;&nbsp;&nbsp;&nbsp;&nbsp;&nbsp;&nbsp;&nbsp;&nbsp;&nbsp;&nbsp;&nbsp;<span style="color:#c586c0">return</span> <span style="color:#569cd6">None</span></div><div>&nbsp;</div><div>&nbsp;&nbsp;&nbsp;&nbsp;<span style="color:#c586c0">except</span> FileNotFoundError:</div><div>&nbsp;&nbsp;&nbsp;&nbsp;&nbsp;&nbsp;&nbsp;&nbsp;<span style="color:#dcdcaa">print</span>(<span style="color:#569cd6">f</span><span style="color:#ce9178">"error: filepath not found."</span>)</div><div>&nbsp;&nbsp;&nbsp;&nbsp;&nbsp;&nbsp;&nbsp;&nbsp;<span style="color:#c586c0">return</span> <span style="color:#569cd6">None</span></div><div>&nbsp;&nbsp;&nbsp;&nbsp;<span style="color:#c586c0">except</span> Exception <span style="color:#c586c0">as</span> e:</div><div>&nbsp;&nbsp;&nbsp;&nbsp;&nbsp;&nbsp;&nbsp;&nbsp;<span style="color:#dcdcaa">print</span>(<span style="color:#569cd6">f</span><span style="color:#ce9178">"error occurred: {e}"</span>)</div><div>&nbsp;&nbsp;&nbsp;&nbsp;&nbsp;&nbsp;&nbsp;&nbsp;<span style="color:#c586c0">return</span> <span style="color:#569cd6">None</span></div><div>&nbsp;</div><div><span style="color:#dcdcaa">calculate_bandgap</span>(<span style="color:#ce9178">'<u style="text-decoration-thickness:0.6px;text-underline-offset:1px">/content/drive/MyDrive/OUTPUT_FILES_FROM_VASP/Regular12x/EIGENVAL</u>'</span>)</div></div>
<div class="abs" style="left:1312.5px;top:1209.00px;font-family:&quot;Liberation Mono&quot;,monospace;font-size:7.87px;line-height:9.72px;color:#d0d0d0;white-space:pre;"><div>VBM Energy: 2.9552 eV</div><div>CBM Energy: 11.57567 eV</div><div>Bandgap: 8.620470000000001 eV</div><div>(2.9552, 11.57567, 8.620470000000001)</div></div>
<svg style="left:0;top:0" width="2500" height="1875" viewBox="0 0 2500 1875">
<rect x="1034.7" y="1379.8" width="423.1" height="310.5" fill="none" stroke="#8a8a8a" stroke-width="1"/>
<path d="M1034.7,1690.3 v-4 M1034.7,1379.8 v4" stroke="#8a8a8a" stroke-width="1"/>
<path d="M1087.8,1690.3 v-4 M1087.8,1379.8 v4" stroke="#8a8a8a" stroke-width="1"/>
<path d="M1140.7,1690.3 v-4 M1140.7,1379.8 v4" stroke="#8a8a8a" stroke-width="1"/>
<path d="M1193.8,1690.3 v-4 M1193.8,1379.8 v4" stroke="#8a8a8a" stroke-width="1"/>
<path d="M1246.7,1690.3 v-4 M1246.7,1379.8 v4" stroke="#8a8a8a" stroke-width="1"/>
<path d="M1299.4,1690.3 v-4 M1299.4,1379.8 v4" stroke="#8a8a8a" stroke-width="1"/>
<path d="M1352.3,1690.3 v-4 M1352.3,1379.8 v4" stroke="#8a8a8a" stroke-width="1"/>
<path d="M1405.2,1690.3 v-4 M1405.2,1379.8 v4" stroke="#8a8a8a" stroke-width="1"/>
<path d="M1457.8,1690.3 v-4 M1457.8,1379.8 v4" stroke="#8a8a8a" stroke-width="1"/>
<path d="M1034.7,1379.8 h4 M1457.8,1379.8 h-4" stroke="#8a8a8a" stroke-width="1"/>
<path d="M1034.7,1418.6 h4 M1457.8,1418.6 h-4" stroke="#8a8a8a" stroke-width="1"/>
<path d="M1034.7,1457.4 h4 M1457.8,1457.4 h-4" stroke="#8a8a8a" stroke-width="1"/>
<path d="M1034.7,1496.3 h4 M1457.8,1496.3 h-4" stroke="#8a8a8a" stroke-width="1"/>
<path d="M1034.7,1535.1 h4 M1457.8,1535.1 h-4" stroke="#8a8a8a" stroke-width="1"/>
<path d="M1034.7,1573.9 h4 M1457.8,1573.9 h-4" stroke="#8a8a8a" stroke-width="1"/>
<path d="M1034.7,1612.8 h4 M1457.8,1612.8 h-4" stroke="#8a8a8a" stroke-width="1"/>
<path d="M1034.7,1651.5 h4 M1457.8,1651.5 h-4" stroke="#8a8a8a" stroke-width="1"/>
<path d="M1034.7,1690.3 h4 M1457.8,1690.3 h-4" stroke="#8a8a8a" stroke-width="1"/>
<g font-size="6.6" fill="#333">
<text x="1034.7" y="1701.2" text-anchor="middle">-25</text>
<text x="1087.8" y="1701.2" text-anchor="middle">-20</text>
<text x="1140.7" y="1701.2" text-anchor="middle">-15</text>
<text x="1193.8" y="1701.2" text-anchor="middle">-10</text>
<text x="1246.7" y="1701.2" text-anchor="middle">-5</text>
<text x="1299.4" y="1701.2" text-anchor="middle">0</text>
<text x="1352.3" y="1701.2" text-anchor="middle">5</text>
<text x="1405.2" y="1701.2" text-anchor="middle">10</text>
<text x="1457.8" y="1701.2" text-anchor="middle">15</text>
<text x="1031.2" y="1382.2" text-anchor="end">0.4</text>
<text x="1031.2" y="1421.0" text-anchor="end">0.3</text>
<text x="1031.2" y="1459.8" text-anchor="end">0.2</text>
<text x="1031.2" y="1498.7" text-anchor="end">0.1</text>
<text x="1031.2" y="1537.5" text-anchor="end">0</text>
<text x="1031.2" y="1576.3" text-anchor="end">-0.1</text>
<text x="1031.2" y="1615.2" text-anchor="end">-0.2</text>
<text x="1031.2" y="1653.9" text-anchor="end">-0.3</text>
<text x="1031.2" y="1692.7" text-anchor="end">-0.4</text>
</g>
<polyline points="1051.8,1535.5 1068.6,1535.5 1070.2,1529.4 1072.9,1527.1 1074.8,1520.2 1077.5,1520.2 1079.8,1512.2 1081.6,1505.3 1083.9,1503.1 1086.2,1502.6 1087.4,1497.3 1088.5,1493.9 1089.9,1503.1 1091.9,1514.5 1094.2,1526.0 1095.8,1535.5 1198.3,1535.5 1201.2,1525.5 1203.2,1517.8 1204.7,1500.4 1206.0,1480.2 1208.9,1480.2 1211.3,1469.2 1213.8,1477.3 1215.7,1472.4 1217.6,1468.6 1220.1,1483.0 1221.5,1479.2 1223.4,1485.9 1225.3,1490.4 1227.3,1481.1 1228.6,1484.0 1230.6,1475.3 1232.5,1471.5 1234.4,1480.2 1236.3,1469.9 1238.3,1470.5 1239.4,1480.2 1241.4,1480.2 1242.1,1489.8 1245.6,1490.8 1247.5,1494.6 1249.8,1504.3 1252.4,1513.9 1255.2,1523.6 1258.1,1529.4 1261.0,1532.8 1264.9,1535.5 1270.7,1535.5 1272.6,1529.4 1274.2,1510.1 1275.5,1471.5 1276.9,1432.9 1278.0,1412.0 1278.8,1432.9 1279.6,1490.8 1280.3,1535.5 1281.1,1510.1 1281.9,1461.8 1282.8,1424.2 1283.8,1438.7 1285.2,1461.8 1286.5,1490.8 1287.7,1515.9 1289.0,1526.5 1290.0,1517.8 1291.1,1502.3 1291.9,1508.1 1292.9,1501.4 1293.8,1510.1 1295.0,1512.0 1296.2,1515.9 1297.3,1527.4 1298.7,1535.5 1323.7,1535.5 1324.7,1510.1 1325.7,1483.0 1326.6,1473.8 1327.6,1494.6 1328.6,1512.0 1329.5,1500.4 1330.5,1513.0 1331.8,1494.6 1333.0,1483.0 1334.0,1500.4 1334.9,1527.4 1336.3,1510.1 1337.8,1490.8 1339.8,1475.3 1341.3,1468.6 1342.5,1469.5 1343.6,1498.5 1344.6,1524.5 1345.5,1510.1 1346.7,1500.4 1347.9,1511.0 1349.4,1500.4 1350.6,1488.8 1351.7,1498.5 1352.9,1491.7 1354.6,1492.7 1356.0,1510.1 1357.1,1519.7 1358.5,1512.0 1359.8,1513.9 1360.6,1522.0 1362.1,1508.1 1363.3,1516.8 1364.8,1502.3 1367.2,1496.6 1369.1,1504.3 1371.0,1509.1 1373.9,1508.1 1375.8,1507.2 1377.2,1510.1 1379.7,1499.5 1381.6,1500.4 1383.6,1506.2 1386.1,1495.6 1388.4,1483.0 1390.3,1468.6 1392.2,1485.0 1394.2,1483.0 1395.7,1477.3 1398.0,1496.6 1400.0,1485.0 1401.9,1471.5 1403.4,1477.3 1404.8,1473.4 1406.7,1475.3 1408.3,1472.4 1409.6,1490.8 1410.8,1513.9 1411.9,1529.4 1413.1,1535.5 1427.9,1535.5" fill="none" stroke="#c48ae6" stroke-width="1" stroke-linejoin="round"/>
<polyline points="1051.8,1535.5 1068.6,1535.5 1070.2,1541.6 1072.9,1543.9 1074.8,1550.8 1077.5,1550.8 1079.8,1558.8 1081.6,1565.7 1083.9,1567.9 1086.2,1568.4 1087.4,1573.7 1088.5,1577.1 1089.9,1567.9 1091.9,1556.5 1094.2,1545.0 1095.8,1535.5 1198.3,1535.5 1201.2,1545.5 1203.2,1553.2 1204.7,1570.6 1206.0,1590.8 1208.9,1590.8 1211.3,1601.8 1213.8,1593.7 1215.7,1598.6 1217.6,1602.4 1220.1,1588.0 1221.5,1591.8 1223.4,1585.1 1225.3,1580.6 1227.3,1589.9 1228.6,1587.0 1230.6,1595.7 1232.5,1599.5 1234.4,1590.8 1236.3,1601.1 1238.3,1600.5 1239.4,1590.8 1241.4,1590.8 1242.1,1581.2 1245.6,1580.2 1247.5,1576.4 1249.8,1566.7 1252.4,1557.1 1255.2,1547.4 1258.1,1541.6 1261.0,1538.2 1264.9,1535.5 1270.7,1535.5 1272.6,1541.6 1274.2,1560.9 1275.5,1599.5 1276.9,1638.1 1278.0,1659.0 1278.8,1638.1 1279.6,1580.2 1280.3,1535.5 1281.1,1560.9 1281.9,1609.2 1282.8,1646.8 1283.8,1632.3 1285.2,1609.2 1286.5,1580.2 1287.7,1555.1 1289.0,1544.5 1290.0,1553.2 1291.1,1568.7 1291.9,1562.9 1292.9,1569.6 1293.8,1560.9 1295.0,1559.0 1296.2,1555.1 1297.3,1543.6 1298.7,1535.5 1323.7,1535.5 1324.7,1560.2 1325.7,1587.2 1326.6,1596.9 1327.6,1575.7 1328.6,1558.3 1329.5,1569.9 1330.5,1557.3 1331.8,1575.7 1333.0,1587.2 1334.0,1569.9 1334.9,1542.9 1336.3,1560.2 1337.8,1579.5 1339.8,1595.0 1341.3,1602.3 1342.5,1600.7 1343.6,1571.8 1344.6,1545.8 1345.5,1560.2 1346.7,1569.9 1347.9,1559.3 1349.4,1569.9 1350.6,1582.4 1351.7,1571.8 1352.9,1578.6 1354.6,1577.6 1356.0,1560.2 1357.1,1550.6 1358.5,1558.3 1359.8,1556.4 1360.6,1548.3 1362.1,1562.2 1363.3,1553.5 1364.8,1567.9 1367.2,1573.7 1369.1,1566.0 1371.0,1561.2 1373.9,1562.2 1375.8,1563.1 1377.2,1560.2 1379.7,1570.8 1381.6,1569.9 1383.6,1564.1 1386.1,1574.7 1388.4,1587.2 1390.3,1602.3 1392.2,1585.3 1394.2,1587.2 1395.7,1593.0 1398.0,1573.7 1400.0,1585.3 1401.9,1598.8 1403.4,1593.0 1404.8,1596.9 1406.7,1595.0 1408.3,1597.9 1409.6,1579.5 1410.8,1556.4 1411.9,1540.9 1413.1,1535.5 1427.9,1535.5" fill="none" stroke="#79c9b0" stroke-width="1" stroke-linejoin="round"/>
<line x1="1405.7" y1="1390.5" x2="1444.3" y2="1390.5" stroke="#c48ae6" stroke-width="1"/>
<line x1="1405.7" y1="1406.8" x2="1444.3" y2="1406.8" stroke="#79c9b0" stroke-width="1"/>
<g fill="#1c1c1c" stroke="#1c1c1c" stroke-width="0.3">
<text x="1396.8" y="1396.8" font-size="15" text-anchor="end" textLength="56" lengthAdjust="spacingAndGlyphs">Spin Up</text>
<text x="1396.8" y="1413.0" font-size="15" text-anchor="end" textLength="76.2" lengthAdjust="spacingAndGlyphs">Spin Down</text>
<text x="1246.4" y="1364.4" font-size="16" text-anchor="middle" textLength="291" lengthAdjust="spacingAndGlyphs">Summed Projected Density of States</text>
<text x="1246" y="1715.8" font-size="17.2" text-anchor="middle" textLength="93.5" lengthAdjust="spacingAndGlyphs">Energy (eV)</text>
<text transform="translate(1013.3,1535.5) rotate(-90)" font-size="17.4" text-anchor="middle" textLength="130" lengthAdjust="spacingAndGlyphs">DOS (States/eV)</text>
</g></svg>
<svg style="left:0;top:0" width="2500" height="1875" viewBox="0 0 2500 1875">
<defs>
<linearGradient id="pyb" x1="0" y1="0" x2="1" y2="1"><stop offset="0" stop-color="#5a9fd4"/><stop offset="0.25" stop-color="#4584b6"/><stop offset="1" stop-color="#2f6797"/></linearGradient>
<linearGradient id="pyy" x1="0.85" y1="0.9" x2="0.2" y2="0.1"><stop offset="0" stop-color="#ffd43b"/><stop offset="1" stop-color="#ffe873"/></linearGradient>
<radialGradient id="pysh"><stop offset="0" stop-color="#9a9a9a" stop-opacity="0.42"/><stop offset="0.6" stop-color="#b0b0b0" stop-opacity="0.18"/><stop offset="1" stop-color="#ffffff" stop-opacity="0"/></radialGradient>
<linearGradient id="vg" gradientUnits="userSpaceOnUse" x1="455" y1="0" x2="690" y2="0"><stop offset="0" stop-color="#63287f"/><stop offset="0.22" stop-color="#8a2a66"/><stop offset="0.5" stop-color="#e0162b"/><stop offset="0.62" stop-color="#de1a30"/><stop offset="0.82" stop-color="#9a2862"/><stop offset="1" stop-color="#5e2a86"/></linearGradient>
<radialGradient id="lobe" cx="0.5" cy="0.5" r="0.5"><stop offset="0" stop-color="#fff3e6" stop-opacity="0.95"/><stop offset="0.45" stop-color="#fcd9ba" stop-opacity="0.95"/><stop offset="0.8" stop-color="#f8a868" stop-opacity="0.95"/><stop offset="1" stop-color="#f47a28" stop-opacity="0.98"/></radialGradient>
<radialGradient id="redat" cx="0.42" cy="0.40" r="0.6"><stop offset="0" stop-color="#ffe0e0"/><stop offset="0.18" stop-color="#f25050"/><stop offset="0.5" stop-color="#e01515"/><stop offset="1" stop-color="#a30a0a"/></radialGradient>
<radialGradient id="bluat" cx="0.48" cy="0.55" r="0.55"><stop offset="0" stop-color="#9fd0ff"/><stop offset="0.12" stop-color="#2a6cf0"/><stop offset="0.55" stop-color="#0f3fd8"/><stop offset="0.85" stop-color="#1550d0"/><stop offset="1" stop-color="#3f8fe8"/></radialGradient>
<radialGradient id="halo" cx="0.5" cy="0.5" r="0.5"><stop offset="0.7" stop-color="#3aa0f0" stop-opacity="0.9"/><stop offset="0.88" stop-color="#58d8c0" stop-opacity="0.7"/><stop offset="1" stop-color="#c8e860" stop-opacity="0"/></radialGradient>
<filter id="hexsh" x="-10%" y="-10%" width="120%" height="120%"><feGaussianBlur stdDeviation="0.8"/></filter>
</defs>
<polygon points="53.0,1702.8 92.4,1722.3999999999999 92.4,1773.5 53.0,1793.1 13.600000000000001,1773.5 13.600000000000001,1722.3999999999999" fill="#4f6a9e"/>
<polygon points="91.6,1774.6 130.6,1794.1999999999998 130.6,1843.8000000000002 91.6,1863.4 52.599999999999994,1843.8000000000002 52.599999999999994,1794.1999999999998" fill="#f5a56f"/>
<polygon points="169.5,1774.8 208.5,1794.3999999999999 208.5,1843.8000000000002 169.5,1863.4 130.5,1843.8000000000002 130.5,1794.3999999999999" fill="#9f72c9"/>
<polygon points="130.9,1703.8 170.3,1723.3999999999999 170.3,1773.8000000000002 130.9,1793.4 91.5,1773.8000000000002 91.5,1723.3999999999999" fill="#3a9a70" opacity="0.45" filter="url(#hexsh)"/>
<polygon points="130.9,1704.3 169.60000000000002,1723.8999999999999 169.60000000000002,1772.6000000000001 130.9,1792.2 92.2,1772.6000000000001 92.2,1723.8999999999999" fill="#4ec98c"/>
<g fill="#fff" text-anchor="middle">
<text x="53.3" y="1759.4" font-size="34">C</text>
<text x="131.2" y="1759.2" font-size="32.5" font-weight="bold" textLength="28.5" lengthAdjust="spacingAndGlyphs">M</text>
<text x="92.6" y="1829.6" font-size="31" font-weight="bold" textLength="18.5" lengthAdjust="spacingAndGlyphs">R</text>
<text x="169.6" y="1826.8" font-size="23.3" font-weight="bold" textLength="9.5" lengthAdjust="spacingAndGlyphs">L</text>
</g>
<ellipse cx="322.5" cy="1852" rx="36" ry="8.5" fill="url(#pysh)"/>
<g transform="translate(258.1,1703.9) scale(1.1547,1.1834)"><path d="M54.918785,9.0000001e-4 C50.335132,0.02221727 45.957846,0.41313697 42.106285,1.0946693 30.760069,3.0991731 28.700036,7.2947714 28.700035,15.032169 v10.21875 h26.8125 v3.40625 H28.700035 18.637535 c-7.792459,0 -14.6157588,4.683717 -16.7499998,13.59375 -2.46181998,10.212966 -2.57101508,16.586023 0,27.25 1.9059283,7.937852 6.4575432,13.593748 14.2499998,13.59375 h9.21875 v-12.25 c0,-8.849902 7.657144,-16.656248 16.75,-16.65625 h26.78125 c7.454951,0 13.406253,-6.138164 13.40625,-13.625 v-25.53125 c0,-7.2663386 -6.12998,-12.7247771 -13.40625,-13.9374997 C64.281548,0.32794397 59.502438,-0.02037903 54.918785,9.0000001e-4 Z m-14.5,8.21875012 c2.769547,0 5.03125,2.2986456 5.03125,5.1249996 -2e-6,2.816336 -2.261703,5.09375 -5.03125,5.09375 -2.779476,-1e-6 -5.03125,-2.277415 -5.03125,-5.09375 -10e-7,-2.826353 2.251774,-5.1249996 5.03125,-5.1249996 z" fill="url(#pyb)"/><path d="M85.637535,28.657169 v11.90625 c0,9.230755 -7.825895,16.999999 -16.75,17 h-26.78125 c-7.335833,0 -13.406249,6.278483 -13.40625,13.625 v25.531247 c0,7.266344 6.318588,11.540324 13.40625,13.625004 8.487331,2.49561 16.626237,2.94663 26.78125,0 6.750155,-1.95439 13.406253,-5.88761 13.40625,-13.625004 V86.500919 h-26.78125 v-3.40625 h26.78125 13.406254 c7.792461,0 10.696251,-5.435408 13.406241,-13.59375 2.79933,-8.398886 2.68022,-16.475776 0,-27.25 -1.92578,-7.757441 -5.60387,-13.59375 -13.406241,-13.59375 z m-15.0625,64.65625 c2.779478,3e-6 5.03125,2.277417 5.03125,5.093747 -2e-6,2.826354 -2.251775,5.125004 -5.03125,5.125004 -2.76955,0 -5.03125,-2.29865 -5.03125,-5.125004 2e-6,-2.81633 2.261697,-5.093747 5.03125,-5.093747 z" fill="url(#pyy)"/></g>
<g class="vasp" font-weight="bold" fill="url(#vg)" stroke="#5a8f8a" stroke-width="4.4" stroke-linejoin="round" paint-order="stroke fill">
<text><tspan x="456.5" y="1840.5" font-size="122.1" textLength="65.0" lengthAdjust="spacingAndGlyphs">V</tspan><tspan x="515.5" y="1787.0" font-size="126.9" textLength="71.0" lengthAdjust="spacingAndGlyphs">A</tspan><tspan x="572.0" y="1833.0" font-size="119.3" textLength="63.5" lengthAdjust="spacingAndGlyphs">S</tspan><tspan x="624.0" y="1806.0" font-size="121.4" textLength="62.5" lengthAdjust="spacingAndGlyphs">P</tspan></text>
</g>
<ellipse cx="822.6" cy="1718.3" rx="34" ry="39.5" fill="url(#lobe)"/>
<ellipse cx="889.6" cy="1778.8" rx="34.5" ry="33.5" fill="url(#lobe)"/>
<ellipse cx="778.4" cy="1803.8" rx="35" ry="34" fill="url(#lobe)"/>
<line x1="835.3" y1="1778.0" x2="822.6" y2="1715.6" stroke="#c9c9c9" stroke-width="4.5"/>
<circle cx="822.6" cy="1715.6" r="12.3" fill="url(#redat)"/>
<line x1="835.3" y1="1778.0" x2="888.2" y2="1778.8" stroke="#c9c9c9" stroke-width="4.5"/>
<circle cx="888.2" cy="1778.8" r="12.3" fill="url(#redat)"/>
<line x1="835.3" y1="1778.0" x2="778.4" y2="1803.8" stroke="#c9c9c9" stroke-width="4.5"/>
<circle cx="778.4" cy="1803.8" r="12.3" fill="url(#redat)"/>
<circle cx="835.3" cy="1778.0" r="31" fill="url(#halo)"/>
<circle cx="835.3" cy="1778.0" r="24" fill="url(#bluat)"/>
<ellipse cx="850.8" cy="1821.4" rx="34" ry="35" fill="url(#lobe)" opacity="0.93"/>
<line x1="837.3" y1="1790.0" x2="850.8" y2="1822.2" stroke="#c0b0b0" stroke-width="4.5" opacity="0.8"/>
<circle cx="850.8" cy="1822.2" r="12.3" fill="url(#redat)"/>
</svg>
<svg style="left:0;top:0" width="2500" height="1875" viewBox="0 0 2500 1875">
<g class="ser" fill="#4d4d4d" font-size="22">
<text x="67.4" y="1541.3" textLength="119.8" lengthAdjust="spacing"><tspan font-style="italic">E</tspan>[<tspan font-style="italic">n</tspan>] = <tspan font-style="italic">T</tspan><tspan font-style="italic" font-size="14.5" dy="4.5">s</tspan><tspan dy="-4.5" font-size="1">&#8203;</tspan>[<tspan font-style="italic">n</tspan>] +</text>
<text transform="translate(195.5,1546.0) skewX(-9) scale(1,1.62)" font-size="26">∫</text>
<text x="216.8" y="1541.3" textLength="107" lengthAdjust="spacing"><tspan font-style="italic">V</tspan><tspan font-style="italic" font-size="14.5" dy="4.5">ext</tspan><tspan dy="-4.5" font-size="1">&#8203;</tspan>(<tspan font-style="italic">r</tspan>)<tspan font-style="italic">n</tspan>(<tspan font-style="italic">r</tspan>) +</text>
<text x="336" y="1531.0" font-size="19" text-anchor="middle">1</text>
<rect x="329.8" y="1535.6" width="12.4" height="1.1"/>
<text x="336" y="1554.0" font-size="19" text-anchor="middle">2</text>
<text transform="translate(349.5,1546.0) skewX(-9) scale(1,1.62)" font-size="26">∫</text>
<text transform="translate(371.5,1546.0) skewX(-9) scale(1,1.62)" font-size="26">∫</text>
<text x="393.9" y="1529.8" textLength="67" lengthAdjust="spacing"><tspan font-style="italic">n</tspan>(<tspan font-style="italic">r</tspan>)<tspan font-style="italic">n</tspan>(<tspan font-style="italic">t</tspan>)</text>
<rect x="393.4" y="1535.6" width="68.3" height="1.1"/>
<text x="403.3" y="1552.9" textLength="49.3" lengthAdjust="spacing">|<tspan font-style="italic">r</tspan> − <tspan font-style="italic">t</tspan>|</text>
<text x="464.2" y="1541.3" textLength="108.2" lengthAdjust="spacing"><tspan font-style="italic">drdt</tspan> + <tspan font-style="italic">E</tspan><tspan font-style="italic" font-size="14.5" dy="4.5">xc</tspan><tspan dy="-4.5" font-size="1">&#8203;</tspan>[<tspan font-style="italic">n</tspan>]</text>
</g></svg>
<div class="hd" style="left:42.41px;top:253.4px;font-size:35.5px;line-height:42.6px;letter-spacing:-0.824px;">INTRODUCTION</div>
<div class="abs" style="left:43.6px;top:289.2px;width:261.1px;height:3.0px;background:#1d4689;"></div>
<div class="t" style="left:43.5px;top:305.3px;font-size:24.5px;line-height:40.52px;letter-spacing:0.200px;"><div style="letter-spacing:0.162px">There has always been a quiet but steady interest in</div><div style="letter-spacing:0.185px">Quantum Computing, but recently, there has been a</div><div style="letter-spacing:0.278px">tremendous interest in realizing quantum technology</div><div style="letter-spacing:0.238px">due to the fact we are reaching the physical limits of</div><div style="letter-spacing:0.154px">CPU pin placements – we aim to create more</div><div style="letter-spacing:0.177px">compact chips, but with annually increasing</div><div style="letter-spacing:0.298px">complexities requiring more pins to connect to the</div><div style="letter-spacing:0.227px">motherboard for power delivery, data transfer, and</div><div style="letter-spacing:0.197px">increased traffic of control signals, we soon reach the</div><div style="letter-spacing:0.178px">physical limit. This can be sidestepped by an entirely</div><div style="letter-spacing:0.229px">new process of computation via quantum methods,</div><div style="letter-spacing:0.161px">and Beryllium Oxide may be a host material for future</div><div style="letter-spacing:0.257px">quantum devices including defect-based hosting,</div><div style="letter-spacing:0.028px">quantum sensors, and more.</div></div>
<div class="hd" style="left:33.80px;top:892.1px;font-size:35.5px;line-height:42.6px;letter-spacing:-1.386px;">OBJECTIVE</div>
<div class="abs" style="left:33.4px;top:928.3px;width:187.1px;height:3.0px;background:#1d4689;"></div>
<div class="t" style="left:34.5px;top:957.2px;font-size:24.5px;line-height:40.5px;letter-spacing:0.275px;"><div style="letter-spacing:0.052px">The objective is to analyze Beryllium Oxide (BeO) as</div><div style="letter-spacing:0.244px">a potential host for defect-based quantum</div><div style="letter-spacing:0.305px">computing, although there are multiple methods of</div><div style="letter-spacing:0.313px">quantum computing. Introducing deep defects to the</div><div style="letter-spacing:0.185px">structure may create local energy wells that trap ions</div><div style="letter-spacing:0.273px">and electrons due to the ultrawide bandgap, creating</div><div style="letter-spacing:0.217px">electronic states in the isolated bandgap zone, which</div><div style="letter-spacing:0.276px">can be operated on for computing purposes.</div></div>
<div class="hd" style="left:28.01px;top:1313.2px;font-size:35.5px;line-height:42.6px;letter-spacing:-1.192px;">METHODS &amp; TECHNOLOGIES</div>
<div class="abs" style="left:28.9px;top:1349.6px;width:476.8px;height:3.0px;background:#1d4689;"></div>
<div class="t" style="left:54.3px;top:1379.0px;font-size:20.5px;line-height:34.77px;letter-spacing:0.327px;color:#2e2e2e;"><div style="letter-spacing:0.327px">College of Engineering (CoE) High Performance Computing</div></div>
<div class="t" style="left:34.5px;top:1379.0px;font-size:20.5px;line-height:34.77px;letter-spacing:0.000px;color:#2e2e2e;"><div>-</div></div>
<div class="t" style="left:54.3px;top:1413.8px;font-size:20.5px;line-height:34.77px;letter-spacing:0.327px;color:#2e2e2e;"><div style="letter-spacing:-0.461px">(HPC) System [1]</div></div>
<div class="t" style="left:54.3px;top:1448.5px;font-size:20.5px;line-height:34.77px;letter-spacing:0.327px;color:#2e2e2e;"><div style="letter-spacing:0.227px">Vienna Ab initio Simulation Package (VASP) [8]</div></div>
<div class="t" style="left:34.5px;top:1448.5px;font-size:20.5px;line-height:34.77px;letter-spacing:0.000px;color:#2e2e2e;"><div>-</div></div>
<div class="t" style="left:54.3px;top:1483.3px;font-size:20.5px;line-height:34.77px;letter-spacing:0.327px;color:#2e2e2e;"><div style="letter-spacing:-0.162px">Visualization for Electronic &amp; STructural Analysis (VESTA) [7]</div></div>
<div class="t" style="left:34.5px;top:1483.3px;font-size:20.5px;line-height:34.77px;letter-spacing:0.000px;color:#2e2e2e;"><div>-</div></div>
<div class="t" style="left:54.3px;top:1552.8px;font-size:20.5px;line-height:34.77px;letter-spacing:0.327px;color:#2e2e2e;"><div style="letter-spacing:0.235px">(Density Functional Theory) [5]</div></div>
<div class="t" style="left:54.3px;top:1587.6px;font-size:20.5px;line-height:34.77px;letter-spacing:0.327px;color:#2e2e2e;"><div style="letter-spacing:0.301px">Python &amp; Python Libraries Pymatgen, Matplotlib, Numpy,</div></div>
<div class="t" style="left:34.5px;top:1587.6px;font-size:20.5px;line-height:34.77px;letter-spacing:0.000px;color:#2e2e2e;"><div>-</div></div>
<div class="t" style="left:54.3px;top:1622.4px;font-size:20.5px;line-height:34.77px;letter-spacing:0.327px;color:#2e2e2e;"><div style="letter-spacing:0.410px">Phonopy</div></div>
<div class="t" style="left:34.5px;top:1518.0px;font-size:20.5px;line-height:34.77px;letter-spacing:0.000px;color:#2e2e2e;"><div>-</div></div>
<div class="t" style="left:681.6px;top:709.1px;font-size:20.3px;line-height:25.8px;letter-spacing:0.436px;color:#111;"><div>A supercell of BeO; red is oxygen, green is beryllium.</div></div>
<div class="t" style="left:664.6px;top:734.9px;font-size:20.3px;line-height:25.8px;letter-spacing:0.436px;color:#111;"><div style="letter-spacing:0.341px">The unit cell is hexagonal-close-packed (HCP) and</div><div style="letter-spacing:0.545px">follows ABA stacking, ensuring dense-packing and</div><div style="letter-spacing:0.198px">stability.</div></div>
<div class="t" style="left:1228.0px;top:711.5px;font-size:20.3px;line-height:25.97px;letter-spacing:0.490px;color:#111;"><div style="letter-spacing:0.490px">Above is a bandgap graph for regular Beryllium Oxide,</div><div style="letter-spacing:0.398px">capturing an ultrawide-bandgap (UWBG)&nbsp; which</div><div style="letter-spacing:0.415px">indicates insulating behavior. HSE methods can more</div><div style="letter-spacing:0.476px">accurately calculate the bandgap rather than LDA or</div><div style="letter-spacing:0.372px">GGA methods.</div></div>
<div class="t" style="left:693.9px;top:1260.7px;font-size:20.3px;line-height:25.9px;letter-spacing:0.412px;color:#111;"><div style="letter-spacing:0.538px">Phonon graph of the structure; few low-frequency</div><div style="letter-spacing:0.412px">states starting at Gamma 0. The graph suggests high</div><div style="letter-spacing:0.513px">dynamic stability, and no negative phonon modes.</div></div>
<div class="t" style="left:1256.3px;top:1260.4px;font-size:20.3px;line-height:26.2px;letter-spacing:0.464px;color:#111;"><div style="letter-spacing:0.476px">A python script I made to parse each line of my</div><div style="letter-spacing:0.464px">EIGENVAL file to calculate the bandgap for a defected</div><div style="letter-spacing:-0.140px">BeO.</div></div>
<div class="t" style="left:1003.2px;top:1735.4px;font-size:20.3px;line-height:25.8px;letter-spacing:0.471px;color:#111;"><div style="letter-spacing:0.471px">A PDOS graph calculated near defect locations. The</div><div style="letter-spacing:0.486px">symmetric, sharp peaks surrounding the fermi-level</div><div style="letter-spacing:0.472px">(set to 0 eV for the graph) suggest non-magnetized</div><div style="letter-spacing:0.441px">&amp; localized energy states.</div></div>
<div class="hd" style="left:1819.40px;top:248.0px;font-size:35.5px;line-height:42.6px;letter-spacing:-1.399px;">SIGNIFICANCE</div>
<div class="abs" style="left:1819.0px;top:284.2px;width:238.0px;height:3.0px;background:#1d4689;"></div>
<div class="t" style="left:1820.3px;top:301.1px;font-size:24.5px;line-height:40.43px;letter-spacing:0.205px;"><div style="letter-spacing:0.221px">Beryllium Oxide exhibits several properties that make it</div><div style="letter-spacing:0.073px">an effective qubit host. Due to its UWBG &amp; HCP</div><div style="letter-spacing:0.195px">structure, it is an effective thermal conductor and</div><div style="letter-spacing:0.206px">therefore thermal dissipator, reducing thermal chaos</div><div style="letter-spacing:0.130px">within the system. It is also has an incredibly high level</div><div style="letter-spacing:0.230px">of electrical insulation, providing increased internal</div><div style="letter-spacing:0.204px">current stability by decreasing crosstalk. For qubit</div><div style="letter-spacing:0.213px">hosting, we introduce defects and recalculate;; we</div><div style="letter-spacing:0.301px">observe that the defects have properly localized energy</div><div style="letter-spacing:0.209px">wells and retains a very high bandgap, thereby making it</div><div style="letter-spacing:0.226px">suitable in combination with its natural noise-regulating</div><div style="letter-spacing:0.232px">properties for long coherence times. It is even more</div><div style="letter-spacing:0.149px">promising considering it has a Moh’s Hardness of 9 [6],</div><div style="letter-spacing:0.139px">and maintains stability across high temperatures,</div><div style="letter-spacing:0.212px">oxidation &amp; reduction environments, and humidity.</div></div>
<div class="hd" style="left:1818.16px;top:913.6px;font-size:35.5px;line-height:42.6px;letter-spacing:-2.801px;">REFERENCES</div>
<div class="abs" style="left:1819.0px;top:950.1px;width:217.0px;height:3.0px;background:#1d4689;"></div>
<div class="t" style="left:1861.0px;top:971.6px;font-size:20.3px;line-height:26.01px;letter-spacing:0.526px;color:#111;"><div><span style="letter-spacing:-0.12px">CoE HPC, </span><u style="font-size:21px;letter-spacing:-0.235px">http://coe-hpc-web.sjsu.edu</u></div><div style="letter-spacing:-0.004px">KC Research Group CMRL,</div><div style="letter-spacing:0.489px"><u>https://sites.google.com/sjsu.edu/cmrl/</u></div><div style="letter-spacing:0.411px">American Mineralogist Crystal Structure Database</div><div style="letter-spacing:0.438px"><u>https://rruff.geo.arizona.edu/AMS/amcsd.php</u></div><div style="letter-spacing:0.460px">Chen <i>et</i> al., <i>First-principles study of quantum defect</i></div><div style="letter-spacing:0.530px"><i>candidates in beryllium oxide</i>,</div><div style="letter-spacing:-0.107px"><u>https://link.aps.org/accepted/10.1103/PhysRevB.106.174113</u></div><div style="letter-spacing:0.430px">N.M. Harrison, <i>An Introduction to Density Functional Theory</i>,</div><div style="letter-spacing:0.526px"><u>https://www.imperial.ac.uk/media/imperial-college/research-</u></div><div style="letter-spacing:0.523px"><u>centres-and-groups/computational-materials-science/teachi</u></div><div style="letter-spacing:0.457px"><u>ng/DFT_NATO.pdf</u></div><div style="letter-spacing:0.478px">Weber <i>et</i> al., <i>Properties of Beryllium Oxide and Carbides of</i></div><div style="letter-spacing:0.474px"><i>Beryllium, Molybdenum, Niobium, Tantalum, and Titanium</i>,</div><div style="letter-spacing:0.642px"><u>https://www.osti.gov/servlets/purl/4379040</u></div><div style="letter-spacing:0.372px">VESTA, <u>https://jp-minerals.org/vesta/en/</u></div><div style="letter-spacing:0.288px">Vienna Ab initio Simulation Package (VASP),</div><div style="letter-spacing:0.354px"><u>https://www.vasp.at</u></div></div>
<div class="t" style="left:1790px;width:41.5px;text-align:right;top:971.6px;font-size:20.3px;line-height:26.01px;color:#111;"><div>1.</div><div>2.</div><div>&nbsp;</div><div>3.</div><div>&nbsp;</div><div>4.</div><div>&nbsp;</div><div>&nbsp;</div><div>5.</div><div>&nbsp;</div><div>&nbsp;</div><div>&nbsp;</div><div>6.</div><div>&nbsp;</div><div>&nbsp;</div><div>7.</div><div>8.</div><div>&nbsp;</div></div>
<div class="hd" style="left:1818.22px;top:1486.3px;font-size:35.5px;line-height:42.6px;letter-spacing:-1.234px;">CONTACTS &amp; ACKNOWLEDGEMENTS</div>
<div class="abs" style="left:1818.0px;top:1523.1px;width:607.0px;height:3.0px;background:#1d4689;"></div>
<div class="t" style="left:1818.6px;top:1543.5px;font-size:24.0px;line-height:30.38px;letter-spacing:0.249px;color:#111;"><div style="letter-spacing:0.078px">Funding:&nbsp; U.S. Department of Education P031C210210</div><div>&nbsp;</div><div style="letter-spacing:0.061px">Professor Santosh KC<sup>1</sup>, Chemical &amp; Materials</div><div style="letter-spacing:0.254px">Engineering Department, San Jose State University, San</div><div style="letter-spacing:0.182px">Jose, CA 95192</div><div>&nbsp;</div><div style="letter-spacing:0.322px">Samuel Vo<sup>2</sup>, Computer Science Department, Gavilan</div><div style="letter-spacing:0.565px">College, Gilroy, CA 95020</div></div>
</div>
</body></html>
